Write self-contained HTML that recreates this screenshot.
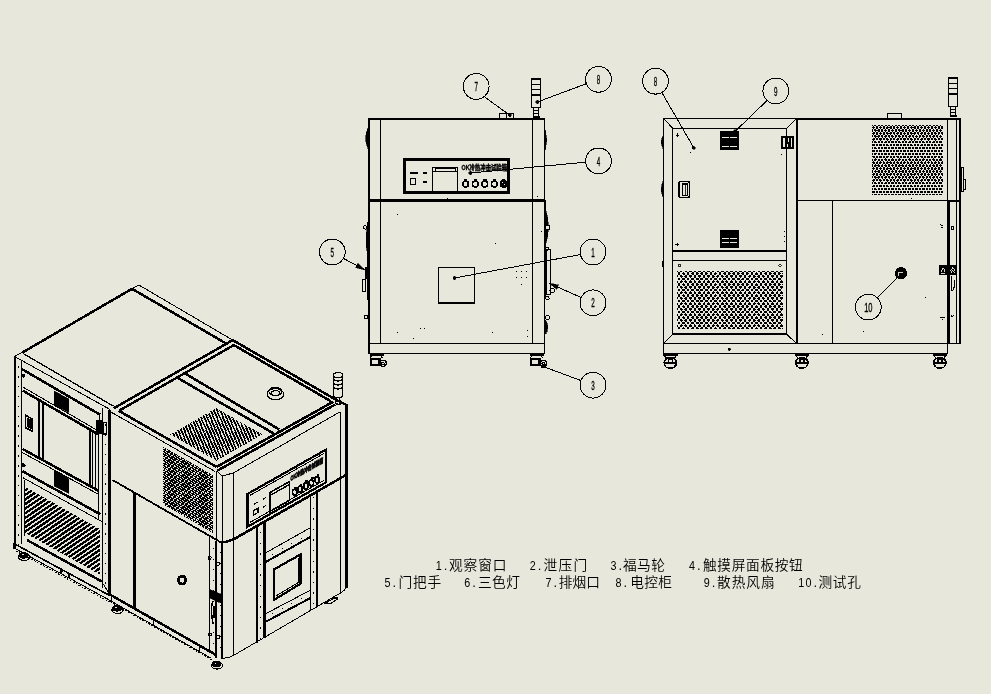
<!DOCTYPE html>
<html lang="zh">
<head>
<meta charset="utf-8">
<title>设备结构示意图</title>
<style>
html,body{margin:0;padding:0;background:#e7e7db;}
body{width:991px;height:694px;overflow:hidden;}
svg{display:block;will-change:transform;}
svg text{font-family:"Liberation Sans","Noto Sans CJK SC",sans-serif;fill:#000;}
svg .legend text{font-family:"Liberation Sans","Noto Sans CJK SC",sans-serif;font-weight:350;}
</style>
</head>
<body>
<svg width="991" height="694" viewBox="0 0 991 694" fill="none" stroke="#000" stroke-width="1" shape-rendering="crispEdges">
<g id="front">
<line x1="368" y1="119" x2="545.4" y2="119" stroke-width="2"/>
<line x1="369" y1="118" x2="369" y2="353.5" stroke-width="2"/>
<line x1="544.5" y1="118" x2="544.5" y2="353.5" stroke-width="1"/>
<line x1="380.5" y1="119" x2="380.5" y2="343" stroke-width="1"/>
<line x1="532.5" y1="119" x2="532.5" y2="343" stroke-width="1"/>
<line x1="368" y1="200.6" x2="545" y2="200.6" stroke-width="3"/>
<line x1="368" y1="343" x2="545" y2="343" stroke-width="1"/>
<line x1="368" y1="353.2" x2="545" y2="353.2" stroke-width="1"/>
<rect x="404.5" y="159.5" width="104" height="32.9" stroke-width="3" fill="none"/>
<rect x="432.5" y="167.2" width="25.1" height="23.8" stroke-width="1" fill="none"/>
<rect x="435" y="168.3" width="20" height="3" stroke-width="1" fill="none"/>
<line x1="432.5" y1="171.8" x2="457.6" y2="171.8" stroke-width="1"/>
<rect x="409.8" y="172" width="7.7" height="1.5" stroke="none" fill="#000"/>
<rect x="423" y="172.2" width="4" height="1.4" stroke="none" fill="#000"/>
<rect x="410.5" y="178.5" width="5.3" height="6" stroke-width="1" fill="none"/>
<rect x="423" y="181.3" width="4" height="1.3" stroke="none" fill="#000"/>
<text x="461.6" y="170.4" font-size="6.6" font-weight="900" textLength="45.4" lengthAdjust="spacingAndGlyphs" stroke="#000" stroke-width="0.35">OK冷热冲击试验箱</text>
<circle cx="465.6" cy="184" r="2.9" stroke-width="1.7" fill="none"/>
<rect x="464" y="179.4" width="3.4" height="2.2" stroke="none" fill="#000"/>
<circle cx="475.3" cy="184" r="2.9" stroke-width="1.7" fill="none"/>
<rect x="473.7" y="179.4" width="3.4" height="2.2" stroke="none" fill="#000"/>
<circle cx="484.8" cy="184" r="2.9" stroke-width="1.7" fill="none"/>
<rect x="483.2" y="179.4" width="3.4" height="2.2" stroke="none" fill="#000"/>
<circle cx="494.3" cy="184" r="2.9" stroke-width="1.7" fill="none"/>
<rect x="492.7" y="179.4" width="3.4" height="2.2" stroke="none" fill="#000"/>
<circle cx="503.6" cy="184" r="3.1" stroke-width="1.7" fill="none"/>
<circle cx="504.6" cy="184.4" r="1.6" stroke-width="2" fill="none"/>
<rect x="502" y="179.4" width="3.4" height="2.2" stroke="none" fill="#000"/>
<rect x="438.5" y="267.4" width="36.1" height="35.1" stroke-width="1" fill="none"/>
<line x1="438" y1="302.8" x2="475.1" y2="302.8" stroke-width="2"/>
<rect x="499.5" y="113.5" width="14" height="5" stroke-width="1" fill="none"/>
<line x1="506.5" y1="113.5" x2="506.5" y2="118.5" stroke-width="1"/>
<rect x="531.5" y="78.5" width="9" height="28.5" stroke-width="1" fill="none"/>
<rect x="531" y="78" width="10" height="2" stroke="none" fill="#000"/>
<line x1="531" y1="84.5" x2="541" y2="84.5" stroke-width="1"/>
<line x1="531" y1="89.5" x2="541" y2="89.5" stroke-width="1"/>
<rect x="531" y="93.5" width="10" height="2" stroke="none" fill="#000"/>
<rect x="533.5" y="107" width="5" height="9" stroke-width="1" fill="none"/>
<line x1="533.5" y1="110.5" x2="538.5" y2="110.5" stroke-width="1"/>
<line x1="533.5" y1="113.5" x2="538.5" y2="113.5" stroke-width="1"/>
<rect x="532.5" y="115.5" width="7" height="2.5" stroke="none" fill="#000"/>
<path d="M368 128 Q363.2 138 368 148.5 Z" stroke-width="0.6" fill="#000"/>
<path d="M368 224 Q364 240 368 256 Z" stroke-width="0.6" fill="#000"/>
<circle cx="365.3" cy="227.4" r="1.7" stroke-width="1" fill="none"/>
<rect x="365.2" y="266.5" width="3" height="12" stroke="none" fill="#000"/>
<rect x="362.6" y="279.5" width="2.4" height="12" stroke-width="1" fill="none"/>
<circle cx="366.2" cy="317" r="1.8" stroke-width="1" fill="none"/>
<line x1="367.4" y1="222" x2="367.4" y2="300" stroke-width="1"/>
<line x1="545.3" y1="200" x2="545.3" y2="297" stroke-width="1"/>
<path d="M545.3 130 Q548 140 545.3 150 Z" stroke-width="0.6" fill="#000"/>
<path d="M545.3 208 Q551.5 226 545.3 246 Z" stroke-width="0.6" fill="#000"/>
<circle cx="547.6" cy="227.6" r="2.2" stroke-width="1" fill="#e7e7db"/>
<rect x="546.8" y="249.5" width="3.8" height="45" stroke-width="1" fill="none"/>
<line x1="546" y1="249" x2="546" y2="290" stroke-width="2"/>
<circle cx="547.4" cy="248.6" r="1.6" stroke-width="1" fill="none"/>
<circle cx="552.3" cy="290.5" r="2.3" stroke-width="1" fill="none"/>
<circle cx="547.4" cy="298.2" r="1.8" stroke-width="1" fill="none"/>
<circle cx="547.4" cy="317.5" r="2" stroke-width="1" fill="none"/>
<path d="M545.3 320 Q550.4 327 545.3 334 Z" stroke-width="0.6" fill="#000"/>
<rect x="369.8" y="353.7" width="14" height="2.2" stroke="none" fill="#000"/>
<path d="M371.3 355.7 L370.3 358.2" stroke-width="1" fill="none"/>
<path d="M381.3 355.7 L382.3 358.2" stroke-width="1" fill="none"/>
<rect x="370" y="358.1" width="11.2" height="7.8" stroke="none" fill="#000"/>
<rect x="371.8" y="360.3" width="6.4" height="3.8" stroke="none" fill="#e7e7db"/>
<circle cx="383.2" cy="363.3" r="3.1" stroke-width="1.3" fill="#e7e7db"/>
<circle cx="383" cy="363.7" r="1.3" stroke-width="1.2" fill="none"/>
<rect x="530" y="353.7" width="14" height="2.2" stroke="none" fill="#000"/>
<path d="M531.5 355.7 L530.5 358.2" stroke-width="1" fill="none"/>
<path d="M541.5 355.7 L542.5 358.2" stroke-width="1" fill="none"/>
<rect x="530.2" y="358.1" width="11.2" height="7.8" stroke="none" fill="#000"/>
<rect x="532" y="360.3" width="6.4" height="3.8" stroke="none" fill="#e7e7db"/>
<circle cx="543.4" cy="363.3" r="3.1" stroke-width="1.3" fill="#e7e7db"/>
<circle cx="543.2" cy="363.7" r="1.3" stroke-width="1.2" fill="none"/>
<rect x="447" y="198" width="1" height="1" stroke="none" fill="#000"/>
<rect x="495" y="243" width="1" height="1" stroke="none" fill="#000"/>
<rect x="397" y="214" width="1" height="1" stroke="none" fill="#000"/>
<rect x="397" y="332" width="1" height="1" stroke="none" fill="#000"/>
<rect x="413" y="338" width="1" height="1" stroke="none" fill="#000"/>
<rect x="420" y="328" width="1" height="1" stroke="none" fill="#000"/>
<rect x="424" y="328" width="1" height="1" stroke="none" fill="#000"/>
<rect x="492" y="332" width="1" height="1" stroke="none" fill="#000"/>
<rect x="527" y="330" width="1" height="1" stroke="none" fill="#000"/>
<rect x="527" y="336" width="1" height="1" stroke="none" fill="#000"/>
<rect x="516" y="271" width="1" height="1" stroke="none" fill="#000"/>
<rect x="521" y="271" width="1" height="1" stroke="none" fill="#000"/>
<rect x="526" y="271" width="1" height="1" stroke="none" fill="#000"/>
<rect x="516" y="277" width="1" height="1" stroke="none" fill="#000"/>
<rect x="521" y="277" width="1" height="1" stroke="none" fill="#000"/>
<rect x="526" y="277" width="1" height="1" stroke="none" fill="#000"/>
<rect x="521" y="284" width="1" height="1" stroke="none" fill="#000"/>
<rect x="537" y="196" width="1" height="1" stroke="none" fill="#000"/>
<rect x="541" y="231" width="1" height="1" stroke="none" fill="#000"/>
</g>
<g id="balloons">
<circle cx="476.2" cy="86.4" r="12.9" stroke-width="1" fill="none"/>
<text transform="translate(476.2 91) scale(0.5 1)" text-anchor="middle" font-size="12.5" stroke="#000" stroke-width="0.35">7</text>
<line x1="484" y1="96.5" x2="509.8" y2="115.2" stroke-width="1"/>
<circle cx="509.8" cy="115.2" r="1.6" stroke-width="0.5" fill="#000"/>
<circle cx="598.5" cy="79.3" r="12.9" stroke-width="1" fill="none"/>
<text transform="translate(598.5 83.9) scale(0.5 1)" text-anchor="middle" font-size="12.5" stroke="#000" stroke-width="0.35">8</text>
<line x1="586.3" y1="83.7" x2="537.4" y2="102" stroke-width="1"/>
<circle cx="537.4" cy="102" r="1.6" stroke-width="0.5" fill="#000"/>
<circle cx="598.5" cy="160.9" r="12.9" stroke-width="1" fill="none"/>
<text transform="translate(598.5 165.5) scale(0.5 1)" text-anchor="middle" font-size="12.5" stroke="#000" stroke-width="0.35">4</text>
<line x1="585.7" y1="162.2" x2="470.3" y2="173" stroke-width="1"/>
<circle cx="470.3" cy="173" r="1.6" stroke-width="0.5" fill="#000"/>
<circle cx="593" cy="252" r="12.9" stroke-width="1" fill="none"/>
<text transform="translate(593 256.6) scale(0.5 1)" text-anchor="middle" font-size="12.5" stroke="#000" stroke-width="0.35">1</text>
<line x1="580.2" y1="254.6" x2="454.5" y2="278" stroke-width="1"/>
<circle cx="454.5" cy="278" r="1.6" stroke-width="0.5" fill="#000"/>
<circle cx="593" cy="302.8" r="12.9" stroke-width="1" fill="none"/>
<text transform="translate(593 307.4) scale(0.5 1)" text-anchor="middle" font-size="12.5" stroke="#000" stroke-width="0.35">2</text>
<line x1="581" y1="297.5" x2="549" y2="283.2" stroke-width="1"/>
<path d="M549 283.2 L556.69 289.27 L558.65 284.88 Z" stroke-width="0.5" fill="#000"/>
<circle cx="593" cy="385.2" r="12.9" stroke-width="1" fill="none"/>
<text transform="translate(593 389.8) scale(0.5 1)" text-anchor="middle" font-size="12.5" stroke="#000" stroke-width="0.35">3</text>
<line x1="580.8" y1="380.5" x2="542.6" y2="366.3" stroke-width="1"/>
<circle cx="542.6" cy="366.3" r="1.6" stroke-width="0.5" fill="#000"/>
<circle cx="332.3" cy="252" r="12.9" stroke-width="1" fill="none"/>
<text transform="translate(332.3 256.6) scale(0.5 1)" text-anchor="middle" font-size="12.5" stroke="#000" stroke-width="0.35">5</text>
<line x1="343.6" y1="258.5" x2="365.2" y2="270" stroke-width="1"/>
<path d="M365.2 270 L357.94 263.42 L355.69 267.65 Z" stroke-width="0.5" fill="#000"/>
</g>
<g id="side">
<line x1="663" y1="118" x2="797" y2="118" stroke-width="1"/>
<line x1="797" y1="118.8" x2="961" y2="118.8" stroke-width="2"/>
<line x1="663.5" y1="118" x2="663.5" y2="353.7" stroke-width="1"/>
<line x1="672.6" y1="128.3" x2="672.6" y2="334.5" stroke-width="1"/>
<line x1="672.6" y1="128.3" x2="786.5" y2="128.3" stroke-width="1"/>
<line x1="786.5" y1="128.3" x2="786.5" y2="334.5" stroke-width="1"/>
<line x1="796.9" y1="118" x2="796.9" y2="343.3" stroke-width="2"/>
<line x1="663.5" y1="118" x2="672.6" y2="128.3" stroke-width="1"/>
<line x1="796.5" y1="118.5" x2="786.5" y2="128.3" stroke-width="1"/>
<line x1="672.6" y1="251" x2="786.5" y2="251" stroke-width="2"/>
<line x1="672.6" y1="260.3" x2="786.5" y2="260.3" stroke-width="1"/>
<line x1="672" y1="334.2" x2="787" y2="334.2" stroke-width="2"/>
<line x1="663.5" y1="343.3" x2="672.6" y2="334.2" stroke-width="1"/>
<line x1="796.5" y1="343.3" x2="786.5" y2="334.2" stroke-width="1"/>
<line x1="663" y1="343.3" x2="961" y2="343.3" stroke-width="1"/>
<line x1="663" y1="353.7" x2="948" y2="353.7" stroke-width="1"/>
<line x1="947.7" y1="343.3" x2="947.7" y2="353.7" stroke-width="1"/>
<rect x="720" y="131" width="19" height="18.6" stroke="none" fill="#000"/>
<line x1="721.5" y1="137.6" x2="737.5" y2="137.6" stroke="#e7e7db" stroke-width="1" stroke-dasharray="7 1.5"/>
<line x1="721.5" y1="146.3" x2="737.5" y2="146.3" stroke="#e7e7db" stroke-width="1" stroke-dasharray="7 1.5"/>
<rect x="720" y="230" width="19" height="18" stroke="none" fill="#000"/>
<line x1="721.5" y1="238.3" x2="737.5" y2="238.3" stroke="#e7e7db" stroke-width="1" stroke-dasharray="7 1.5"/>
<line x1="721.5" y1="242.3" x2="737.5" y2="242.3" stroke="#e7e7db" stroke-width="1" stroke-dasharray="7 1.5"/>
<rect x="781" y="136" width="13" height="13" stroke="none" fill="#000"/>
<rect x="783.2" y="138" width="1.4" height="8.5" stroke="none" fill="#e7e7db"/>
<rect x="787.6" y="138" width="1" height="4" stroke="none" fill="#e7e7db"/>
<rect x="790.6" y="138" width="1" height="8.5" stroke="none" fill="#e7e7db"/>
<rect x="786.8" y="144" width="1.4" height="2.5" stroke="none" fill="#e7e7db"/>
<rect x="678.8" y="181.6" width="10.8" height="15.8" rx="1.6" stroke-width="1.6" fill="none"/>
<rect x="682.6" y="184" width="4.8" height="11.2" stroke-width="1.4" fill="none"/>
<line x1="685" y1="184.5" x2="685" y2="195" stroke-width="0.8"/>
<rect x="675.6" y="134.5" width="3.4" height="1.5" stroke="none" fill="#000"/>
<rect x="676.6" y="133.3" width="1.4" height="3.9" stroke="none" fill="#000"/>
<rect x="675.4" y="243.5" width="3.8" height="1.5" stroke="none" fill="#000"/>
<rect x="676.6" y="242.6" width="1.6" height="3.2" stroke="none" fill="#000"/>
<rect x="678.6" y="264.5" width="1.8" height="1.7" stroke-width="0.8" fill="none"/>
<ellipse cx="779.9" cy="265.3" rx="1.3" ry="0.9" stroke-width="0.8" fill="none"/>
<rect x="729.8" y="343" width="1.2" height="1" stroke="none" fill="#000"/>
<circle cx="729.4" cy="349.4" r="1.3" stroke-width="0.5" fill="#000"/>
<path d="M677 271.5h1m2 0h2m3 0h2m2 0h3m2 0h2m2 0h3m2 0h2m2 0h3m2 0h2m3 0h2m2 0h3m2 0h2m2 0h3m2 0h2m2 0h3m2 0h2m2 0h3m2 0h2m3 0h2m2 0h3m2 0h2m2 0h3m2 0h2m2 0h3M678 272.5h2m3 0h1m3 0h2m3 0h2m2 0h2m3 0h2m2 0h2m3 0h2m3 0h1m3 0h2m3 0h2m2 0h2m3 0h2m2 0h2m3 0h2m2 0h2m3 0h2m3 0h1m3 0h2m3 0h2m2 0h2m3 0h2m2 0h2M678 273.5h2m2 0h3m2 0h2m2 0h3m2 0h3m1 0h3m2 0h3m2 0h2m2 0h3m2 0h2m2 0h3m2 0h3m1 0h3m2 0h3m1 0h3m2 0h3m2 0h2m2 0h3m2 0h2m2 0h3m2 0h3m1 0h3m2 0h3m1 0h1M678 274.5h2m3 0h2m2 0h2m3 0h2m2 0h2m3 0h2m2 0h2m3 0h2m2 0h2m3 0h2m3 0h2m2 0h2m3 0h2m2 0h2m3 0h2m2 0h2m3 0h2m2 0h3m2 0h2m3 0h2m2 0h2m3 0h2m2 0h2M677 275.5h1m2 0h2m3 0h2m2 0h3m2 0h2m2 0h3m2 0h2m2 0h3m2 0h2m3 0h2m2 0h2m3 0h2m2 0h3m2 0h2m2 0h3m2 0h2m3 0h2m2 0h2m3 0h2m2 0h2m3 0h2m2 0h3m2 0h2m2 0h3M677 276.5h1m2 0h3m1 0h3m2 0h3m2 0h2m2 0h3m2 0h2m2 0h3m2 0h3m1 0h3m2 0h3m1 0h3m2 0h3m2 0h2m2 0h3m2 0h2m2 0h3m2 0h3m1 0h3m2 0h3m2 0h2m2 0h3m2 0h2m2 0h3M681 277.5h1m3 0h2m3 0h1m3 0h2m3 0h1m3 0h2m3 0h1m3 0h2m3 0h1m4 0h1m3 0h2m3 0h1m3 0h2m3 0h1m3 0h2m3 0h1m3 0h2m3 0h2m3 0h1m3 0h2m3 0h1m3 0h2m3 0h1M678 278.5h2m2 0h3m2 0h2m2 0h3m2 0h3m1 0h3m2 0h3m2 0h2m2 0h3m2 0h2m2 0h3m2 0h2m2 0h3m2 0h3m2 0h2m2 0h3m2 0h2m2 0h3m2 0h2m2 0h3m2 0h2m2 0h3m2 0h3M678 279.5h2m2 0h3m2 0h2m2 0h3m2 0h3m1 0h3m2 0h3m2 0h2m2 0h3m2 0h2m2 0h3m2 0h2m2 0h3m2 0h3m1 0h3m2 0h3m2 0h2m2 0h3m2 0h2m2 0h3m2 0h3m1 0h3m2 0h3M681 280.5h1m3 0h1m4 0h1m3 0h1m4 0h1m4 0h1m3 0h1m4 0h1m3 0h1m4 0h1m3 0h1m4 0h1m3 0h1m4 0h1m4 0h1m3 0h1m4 0h1m3 0h1m4 0h1m3 0h1m4 0h1m4 0h1m3 0h1M677 281.5h1m2 0h3m1 0h3m2 0h3m2 0h2m2 0h3m2 0h2m2 0h3m2 0h3m1 0h3m2 0h3m1 0h3m2 0h3m2 0h2m2 0h3m2 0h2m2 0h3m2 0h3m1 0h3m2 0h3m2 0h2m2 0h3m2 0h2m2 0h3M677 282.5h1m2 0h2m3 0h2m2 0h3m2 0h2m2 0h3m2 0h2m2 0h3m2 0h2m3 0h2m2 0h3m2 0h2m2 0h3m2 0h2m2 0h3m2 0h2m2 0h3m2 0h2m3 0h2m2 0h3m2 0h2m2 0h3m2 0h2m2 0h3M678 283.5h2m3 0h1m3 0h2m3 0h2m2 0h2m3 0h2m2 0h2m3 0h2m3 0h1m3 0h2m3 0h2m2 0h2m3 0h2m2 0h2m3 0h2m2 0h2m3 0h2m3 0h1m3 0h2m3 0h2m2 0h2m3 0h2m2 0h2M678 284.5h2m2 0h3m2 0h2m2 0h3m2 0h3m1 0h3m2 0h3m2 0h2m2 0h3m2 0h2m2 0h3m2 0h3m1 0h3m2 0h3m1 0h3m2 0h3m2 0h2m2 0h3m2 0h2m2 0h3m2 0h3m1 0h3m2 0h3m1 0h1M678 285.5h2m3 0h2m2 0h2m3 0h2m2 0h2m3 0h2m2 0h2m3 0h2m2 0h2m3 0h2m3 0h2m2 0h2m3 0h2m2 0h2m3 0h2m2 0h2m3 0h2m2 0h3m2 0h2m3 0h2m2 0h2m3 0h2m2 0h2M677 286.5h1m2 0h2m3 0h2m2 0h3m2 0h2m2 0h3m2 0h2m2 0h3m2 0h2m3 0h2m2 0h2m3 0h2m2 0h3m2 0h2m2 0h3m2 0h2m3 0h2m2 0h2m3 0h2m2 0h2m3 0h2m2 0h3m2 0h2m2 0h3M677 287.5h1m2 0h3m1 0h3m2 0h3m2 0h2m2 0h3m2 0h2m2 0h3m2 0h3m1 0h3m2 0h3m1 0h3m2 0h3m2 0h2m2 0h3m2 0h2m2 0h3m2 0h3m1 0h3m2 0h3m2 0h2m2 0h3m2 0h2m2 0h3M681 288.5h1m3 0h2m3 0h1m3 0h2m3 0h1m3 0h2m3 0h1m3 0h2m3 0h1m4 0h1m3 0h2m3 0h1m3 0h2m3 0h1m3 0h2m3 0h1m3 0h2m3 0h2m3 0h1m3 0h2m3 0h1m3 0h2m3 0h1M678 289.5h2m2 0h3m2 0h2m2 0h3m2 0h3m1 0h3m2 0h3m2 0h2m2 0h3m2 0h2m2 0h3m2 0h2m2 0h3m2 0h3m2 0h2m2 0h3m2 0h2m2 0h3m2 0h2m2 0h3m2 0h2m2 0h3m2 0h3M678 290.5h2m2 0h3m2 0h2m2 0h3m2 0h3m1 0h3m2 0h3m2 0h2m2 0h3m2 0h2m2 0h3m2 0h2m2 0h3m2 0h3m1 0h3m2 0h3m2 0h2m2 0h3m2 0h2m2 0h3m2 0h3m1 0h3m2 0h3M681 291.5h1m3 0h1m4 0h1m3 0h1m4 0h1m4 0h1m3 0h1m4 0h1m3 0h1m4 0h1m3 0h1m4 0h1m3 0h1m4 0h1m4 0h1m3 0h1m4 0h1m3 0h1m4 0h1m3 0h1m4 0h1m4 0h1m3 0h1M677 292.5h1m2 0h3m1 0h3m2 0h3m2 0h2m2 0h3m2 0h2m2 0h3m2 0h3m1 0h3m2 0h3m1 0h3m2 0h3m2 0h2m2 0h3m2 0h2m2 0h3m2 0h3m1 0h3m2 0h3m2 0h2m2 0h3m2 0h2m2 0h3M677 293.5h1m2 0h2m3 0h2m2 0h3m2 0h2m2 0h3m2 0h2m2 0h3m2 0h2m3 0h2m2 0h3m2 0h2m2 0h3m2 0h2m2 0h3m2 0h2m2 0h3m2 0h2m3 0h2m2 0h3m2 0h2m2 0h3m2 0h2m2 0h3M678 294.5h2m3 0h1m3 0h2m3 0h2m2 0h2m3 0h2m2 0h2m3 0h2m3 0h1m3 0h2m3 0h2m2 0h2m3 0h2m2 0h2m3 0h2m2 0h2m3 0h2m3 0h1m3 0h2m3 0h2m2 0h2m3 0h2m2 0h2M678 295.5h2m2 0h3m2 0h2m2 0h3m2 0h3m1 0h3m2 0h3m2 0h2m2 0h3m2 0h2m2 0h3m2 0h3m1 0h3m2 0h3m1 0h3m2 0h3m2 0h2m2 0h3m2 0h2m2 0h3m2 0h3m1 0h3m2 0h3m1 0h1M678 296.5h2m3 0h2m2 0h2m3 0h2m2 0h2m3 0h2m2 0h2m3 0h2m2 0h2m3 0h2m3 0h2m2 0h2m3 0h2m2 0h2m3 0h2m2 0h2m3 0h2m2 0h3m2 0h2m3 0h2m2 0h2m3 0h2m2 0h2M677 297.5h1m2 0h2m3 0h2m2 0h3m2 0h2m2 0h3m2 0h2m2 0h3m2 0h2m3 0h2m2 0h2m3 0h2m2 0h3m2 0h2m2 0h3m2 0h2m3 0h2m2 0h2m3 0h2m2 0h2m3 0h2m2 0h3m2 0h2m2 0h3M677 298.5h1m2 0h3m1 0h3m2 0h3m2 0h2m2 0h3m2 0h2m2 0h3m2 0h3m1 0h3m2 0h3m1 0h3m2 0h3m2 0h2m2 0h3m2 0h2m2 0h3m2 0h3m1 0h3m2 0h3m2 0h2m2 0h3m2 0h2m2 0h3M681 299.5h1m3 0h2m3 0h1m3 0h2m3 0h1m3 0h2m3 0h1m3 0h2m3 0h1m4 0h1m3 0h2m3 0h1m3 0h2m3 0h1m3 0h2m3 0h1m3 0h2m3 0h2m3 0h1m3 0h2m3 0h1m3 0h2m3 0h1M678 300.5h2m2 0h3m2 0h2m2 0h3m2 0h3m1 0h3m2 0h3m2 0h2m2 0h3m2 0h2m2 0h3m2 0h2m2 0h3m2 0h3m2 0h2m2 0h3m2 0h2m2 0h3m2 0h2m2 0h3m2 0h2m2 0h3m2 0h3M678 301.5h2m2 0h3m2 0h2m2 0h3m2 0h3m1 0h3m2 0h3m2 0h2m2 0h3m2 0h2m2 0h3m2 0h2m2 0h3m2 0h3m1 0h3m2 0h3m2 0h2m2 0h3m2 0h2m2 0h3m2 0h3m1 0h3m2 0h3M681 302.5h1m3 0h1m4 0h1m3 0h1m4 0h1m4 0h1m3 0h1m4 0h1m3 0h1m4 0h1m3 0h1m4 0h1m3 0h1m4 0h1m4 0h1m3 0h1m4 0h1m3 0h1m4 0h1m3 0h1m4 0h1m4 0h1m3 0h1M677 303.5h1m2 0h3m1 0h3m2 0h3m2 0h2m2 0h3m2 0h2m2 0h3m2 0h3m1 0h3m2 0h3m1 0h3m2 0h3m2 0h2m2 0h3m2 0h2m2 0h3m2 0h3m1 0h3m2 0h3m2 0h2m2 0h3m2 0h2m2 0h3M677 304.5h1m2 0h2m3 0h2m2 0h3m2 0h2m2 0h3m2 0h2m2 0h3m2 0h2m3 0h2m2 0h3m2 0h2m2 0h3m2 0h2m2 0h3m2 0h2m2 0h3m2 0h2m3 0h2m2 0h3m2 0h2m2 0h3m2 0h2m2 0h3M678 305.5h2m3 0h1m3 0h2m3 0h2m2 0h2m3 0h2m2 0h2m3 0h2m3 0h1m3 0h2m3 0h2m2 0h2m3 0h2m2 0h2m3 0h2m2 0h2m3 0h2m3 0h1m3 0h2m3 0h2m2 0h2m3 0h2m2 0h2M678 306.5h2m2 0h3m2 0h2m2 0h3m2 0h3m1 0h3m2 0h3m2 0h2m2 0h3m2 0h2m2 0h3m2 0h3m1 0h3m2 0h3m1 0h3m2 0h3m2 0h2m2 0h3m2 0h2m2 0h3m2 0h3m1 0h3m2 0h3m1 0h1M678 307.5h2m3 0h2m2 0h2m3 0h2m2 0h2m3 0h2m2 0h2m3 0h2m2 0h2m3 0h2m3 0h2m2 0h2m3 0h2m2 0h2m3 0h2m2 0h2m3 0h2m2 0h3m2 0h2m3 0h2m2 0h2m3 0h2m2 0h2M677 308.5h1m2 0h2m3 0h2m2 0h3m2 0h2m2 0h3m2 0h2m2 0h3m2 0h2m3 0h2m2 0h2m3 0h2m2 0h3m2 0h2m2 0h3m2 0h2m3 0h2m2 0h2m3 0h2m2 0h2m3 0h2m2 0h3m2 0h2m2 0h3M677 309.5h1m2 0h3m1 0h3m2 0h3m2 0h2m2 0h3m2 0h2m2 0h3m2 0h3m1 0h3m2 0h3m1 0h3m2 0h3m2 0h2m2 0h3m2 0h2m2 0h3m2 0h3m1 0h3m2 0h3m2 0h2m2 0h3m2 0h2m2 0h3M681 310.5h1m3 0h2m3 0h1m3 0h2m3 0h1m3 0h2m3 0h1m3 0h2m3 0h1m4 0h1m3 0h2m3 0h1m3 0h2m3 0h1m3 0h2m3 0h1m3 0h2m3 0h2m3 0h1m3 0h2m3 0h1m3 0h2m3 0h1M678 311.5h2m2 0h3m2 0h2m2 0h3m2 0h3m1 0h3m2 0h3m2 0h2m2 0h3m2 0h2m2 0h3m2 0h2m2 0h3m2 0h3m2 0h2m2 0h3m2 0h2m2 0h3m2 0h2m2 0h3m2 0h2m2 0h3m2 0h3M678 312.5h2m2 0h3m2 0h2m2 0h3m2 0h3m1 0h3m2 0h3m2 0h2m2 0h3m2 0h2m2 0h3m2 0h2m2 0h3m2 0h3m1 0h3m2 0h3m2 0h2m2 0h3m2 0h2m2 0h3m2 0h3m1 0h3m2 0h3M681 313.5h1m3 0h1m4 0h1m3 0h1m4 0h1m4 0h1m3 0h1m4 0h1m3 0h1m4 0h1m3 0h1m4 0h1m3 0h1m4 0h1m4 0h1m3 0h1m4 0h1m3 0h1m4 0h1m3 0h1m4 0h1m4 0h1m3 0h1M677 314.5h1m2 0h3m1 0h3m2 0h3m2 0h2m2 0h3m2 0h2m2 0h3m2 0h3m1 0h3m2 0h3m1 0h3m2 0h3m2 0h2m2 0h3m2 0h2m2 0h3m2 0h3m1 0h3m2 0h3m2 0h2m2 0h3m2 0h2m2 0h3M677 315.5h1m2 0h2m3 0h2m2 0h3m2 0h2m2 0h3m2 0h2m2 0h3m2 0h2m3 0h2m2 0h3m2 0h2m2 0h3m2 0h2m2 0h3m2 0h2m2 0h3m2 0h2m3 0h2m2 0h3m2 0h2m2 0h3m2 0h2m2 0h3M678 316.5h2m3 0h1m3 0h2m3 0h2m2 0h2m3 0h2m2 0h2m3 0h2m3 0h1m3 0h2m3 0h2m2 0h2m3 0h2m2 0h2m3 0h2m2 0h2m3 0h2m3 0h1m3 0h2m3 0h2m2 0h2m3 0h2m2 0h2M678 317.5h2m2 0h3m2 0h2m2 0h3m2 0h3m1 0h3m2 0h3m2 0h2m2 0h3m2 0h2m2 0h3m2 0h3m1 0h3m2 0h3m1 0h3m2 0h3m2 0h2m2 0h3m2 0h2m2 0h3m2 0h3m1 0h3m2 0h3m1 0h1M678 318.5h2m3 0h2m2 0h2m3 0h2m2 0h2m3 0h2m2 0h2m3 0h2m2 0h2m3 0h2m3 0h2m2 0h2m3 0h2m2 0h2m3 0h2m2 0h2m3 0h2m2 0h3m2 0h2m3 0h2m2 0h2m3 0h2m2 0h2M677 319.5h1m2 0h2m3 0h2m2 0h3m2 0h2m2 0h3m2 0h2m2 0h3m2 0h2m3 0h2m2 0h2m3 0h2m2 0h3m2 0h2m2 0h3m2 0h2m3 0h2m2 0h2m3 0h2m2 0h2m3 0h2m2 0h3m2 0h2m2 0h3M677 320.5h1m2 0h3m1 0h3m2 0h3m2 0h2m2 0h3m2 0h2m2 0h3m2 0h3m1 0h3m2 0h3m1 0h3m2 0h3m2 0h2m2 0h3m2 0h2m2 0h3m2 0h3m1 0h3m2 0h3m2 0h2m2 0h3m2 0h2m2 0h3M681 321.5h1m3 0h2m3 0h1m3 0h2m3 0h1m3 0h2m3 0h1m3 0h2m3 0h1m4 0h1m3 0h2m3 0h1m3 0h2m3 0h1m3 0h2m3 0h1m3 0h2m3 0h2m3 0h1m3 0h2m3 0h1m3 0h2m3 0h1M678 322.5h2m2 0h3m2 0h2m2 0h3m2 0h3m1 0h3m2 0h3m2 0h2m2 0h3m2 0h2m2 0h3m2 0h2m2 0h3m2 0h3m2 0h2m2 0h3m2 0h2m2 0h3m2 0h2m2 0h3m2 0h2m2 0h3m2 0h3M678 323.5h2m2 0h3m2 0h2m2 0h3m2 0h3m1 0h3m2 0h3m2 0h2m2 0h3m2 0h2m2 0h3m2 0h2m2 0h3m2 0h3m1 0h3m2 0h3m2 0h2m2 0h3m2 0h2m2 0h3m2 0h3m1 0h3m2 0h3M681 324.5h1m3 0h1m4 0h1m3 0h1m4 0h1m4 0h1m3 0h1m4 0h1m3 0h1m4 0h1m3 0h1m4 0h1m3 0h1m4 0h1m4 0h1m3 0h1m4 0h1m3 0h1m4 0h1m3 0h1m4 0h1m4 0h1m3 0h1M677 325.5h1m2 0h3m1 0h3m2 0h3m2 0h2m2 0h3m2 0h2m2 0h3m2 0h3m1 0h3m2 0h3m1 0h3m2 0h3m2 0h2m2 0h3m2 0h2m2 0h3m2 0h3m1 0h3m2 0h3m2 0h2m2 0h3m2 0h2m2 0h3M677 326.5h1m2 0h2m3 0h2m2 0h3m2 0h2m2 0h3m2 0h2m2 0h3m2 0h2m3 0h2m2 0h3m2 0h2m2 0h3m2 0h2m2 0h3m2 0h2m2 0h3m2 0h2m3 0h2m2 0h3m2 0h2m2 0h3m2 0h2m2 0h3M678 327.5h2m3 0h1m3 0h2m3 0h2m2 0h2m3 0h2m2 0h2m3 0h2m3 0h1m3 0h2m3 0h2m2 0h2m3 0h2m2 0h2m3 0h2m2 0h2m3 0h2m3 0h1m3 0h2m3 0h2m2 0h2m3 0h2m2 0h2M678 328.5h2m2 0h3m2 0h2m2 0h3m2 0h3m1 0h3m2 0h3m2 0h2m2 0h3m2 0h2m2 0h3m2 0h3m1 0h3m2 0h3m1 0h3m2 0h3m2 0h2m2 0h3m2 0h2m2 0h3m2 0h3m1 0h3m2 0h3m1 0h1" stroke-width="1"/>
<path d="M663.4 135 Q659 142 663.4 149.4 Z" stroke-width="0.6" fill="#000"/>
<path d="M663.4 180.4 Q659 189 663.4 198 Z" stroke-width="0.6" fill="#000"/>
<rect x="661.6" y="261" width="1.4" height="5.5" stroke="none" fill="#000"/>
<line x1="797" y1="200.4" x2="948" y2="200.4" stroke-width="1"/>
<line x1="947" y1="200.8" x2="961" y2="200.8" stroke-width="2"/>
<line x1="832.5" y1="200.4" x2="832.5" y2="343.3" stroke-width="1"/>
<line x1="947.7" y1="118" x2="947.7" y2="200" stroke-width="1"/>
<line x1="948.6" y1="200" x2="948.6" y2="343.5" stroke-width="2.8"/>
<line x1="956.8" y1="118" x2="956.8" y2="343.5" stroke-width="1"/>
<line x1="960" y1="118" x2="960" y2="344" stroke-width="2"/>
<rect x="887.5" y="113.5" width="13.5" height="5" stroke-width="1" fill="none"/>
<path d="M872 125.5h1m1 0h2m2 0h2m1 0h2m2 0h2m1 0h2m2 0h1m2 0h2m1 0h2m2 0h2m1 0h2m2 0h2m1 0h2m2 0h1m2 0h2m1 0h2m2 0h2m1 0h2m2 0h2m1 0h2m2 0h1M873 126.5h1m2 0h2m2 0h1m2 0h2m2 0h1m2 0h2m1 0h2m2 0h1m2 0h2m2 0h1m2 0h2m2 0h1m2 0h2m1 0h2m2 0h1m2 0h2m2 0h1m2 0h2m2 0h1m2 0h2m1 0h2M872 127.5h3m1 0h2m1 0h3m1 0h2m1 0h6m1 0h2m1 0h3m1 0h2m1 0h3m1 0h2m1 0h6m1 0h2m1 0h3m1 0h2m1 0h3m1 0h2m1 0h3m1 0h2m1 0h2M873 128.5h1m2 0h2m2 0h1m2 0h2m1 0h2m2 0h2m1 0h2m2 0h1m2 0h2m2 0h1m2 0h2m2 0h1m2 0h2m1 0h2m2 0h1m2 0h2m2 0h1m2 0h2m2 0h1m2 0h2m1 0h2M872 129.5h1m1 0h2m2 0h2m1 0h2m2 0h1m2 0h2m2 0h1m2 0h2m1 0h2m2 0h2m1 0h2m2 0h1m2 0h2m2 0h1m2 0h2m2 0h1m2 0h2m1 0h2m2 0h1m2 0h2m2 0h1M872 130.5h1m1 0h6m1 0h2m1 0h3m1 0h2m1 0h3m1 0h2m1 0h6m1 0h2m1 0h3m1 0h2m1 0h3m1 0h2m1 0h3m1 0h2m1 0h2m1 0h3m1 0h2m1 0h3M872 131.5h1m2 0h1m2 0h2m1 0h2m2 0h1m2 0h2m2 0h1m2 0h2m2 0h1m2 0h2m1 0h2m2 0h1m2 0h2m2 0h1m2 0h2m2 0h1m2 0h2m1 0h2m2 0h1m2 0h2m2 0h1M873 132.5h2m1 0h2m2 0h1m2 0h2m1 0h2m2 0h2m1 0h2m2 0h2m1 0h2m2 0h1m2 0h2m1 0h2m2 0h2m1 0h2m2 0h2m1 0h2m2 0h1m2 0h2m1 0h2m2 0h2m1 0h2M872 133.5h3m1 0h2m1 0h3m1 0h2m1 0h6m1 0h2m1 0h3m1 0h2m1 0h3m1 0h2m1 0h6m1 0h2m1 0h3m1 0h2m1 0h3m1 0h2m1 0h3m1 0h2m1 0h2M873 134.5h1m2 0h2m2 0h1m2 0h2m2 0h1m2 0h1m3 0h1m2 0h1m2 0h2m2 0h1m2 0h2m2 0h1m2 0h1m3 0h1m2 0h1m2 0h2m2 0h1m2 0h2m2 0h1m2 0h1m3 0h1M872 135.5h1m1 0h2m2 0h2m1 0h2m2 0h2m1 0h2m1 0h2m2 0h2m1 0h2m2 0h2m1 0h2m2 0h2m1 0h2m2 0h1m2 0h2m1 0h2m2 0h2m1 0h2m2 0h2m1 0h2m2 0h1M872 136.5h1m1 0h6m1 0h2m1 0h3m1 0h2m1 0h3m1 0h2m1 0h3m1 0h2m1 0h2m1 0h3m1 0h2m1 0h3m1 0h2m1 0h3m1 0h2m1 0h2m1 0h3m1 0h2m1 0h3M875 137.5h1m2 0h1m3 0h1m2 0h1m3 0h1m2 0h1m2 0h1m3 0h1m2 0h1m3 0h1m2 0h1m3 0h1m2 0h1m2 0h1m3 0h1m2 0h1m3 0h1m2 0h1m3 0h1m2 0h1M873 138.5h2m1 0h2m1 0h3m1 0h2m1 0h2m2 0h2m1 0h2m2 0h2m1 0h2m1 0h3m1 0h2m1 0h2m2 0h2m1 0h2m2 0h2m1 0h2m1 0h3m1 0h2m1 0h2m2 0h2m1 0h2M872 139.5h3m1 0h2m1 0h3m1 0h2m1 0h3m1 0h2m1 0h2m1 0h3m1 0h2m1 0h3m1 0h2m1 0h3m1 0h2m1 0h2m1 0h3m1 0h2m1 0h3m1 0h2m1 0h3m1 0h2m1 0h2M873 140.5h1m6 0h1m6 0h1m2 0h1m6 0h1m6 0h1m6 0h1m2 0h1m6 0h1m6 0h1m6 0h1M872 141.5h1m1 0h2m2 0h2m1 0h2m2 0h2m1 0h2m1 0h3m1 0h2m1 0h2m2 0h2m1 0h2m2 0h2m1 0h2m1 0h3m1 0h2m1 0h2m2 0h2m1 0h2m2 0h2m1 0h2m1 0h3M872 142.5h1m1 0h3m1 0h2m1 0h2m1 0h3m1 0h2m1 0h3m1 0h2m1 0h3m1 0h2m1 0h2m1 0h3m1 0h2m1 0h3m1 0h2m1 0h3m1 0h2m1 0h2m1 0h3m1 0h2m1 0h3M872 144.5h3m1 0h2m1 0h3m1 0h2m1 0h2m2 0h2m1 0h2m1 0h3m1 0h2m1 0h3m1 0h2m1 0h2m2 0h2m1 0h2m2 0h2m1 0h2m1 0h3m1 0h2m1 0h2m2 0h2m1 0h2M872 145.5h3m1 0h2m1 0h3m1 0h2m1 0h3m1 0h2m1 0h2m1 0h3m1 0h2m1 0h3m1 0h2m1 0h3m1 0h2m1 0h2m1 0h3m1 0h2m1 0h3m1 0h2m1 0h3m1 0h2m1 0h2M872 147.5h1m1 0h2m2 0h2m1 0h2m1 0h3m1 0h2m1 0h3m1 0h2m1 0h3m1 0h2m1 0h2m1 0h3m1 0h2m1 0h3m1 0h2m1 0h3m1 0h2m1 0h2m1 0h3m1 0h2m1 0h3M872 148.5h1m1 0h3m1 0h2m1 0h2m1 0h3m1 0h2m1 0h3m1 0h2m1 0h3m1 0h2m1 0h2m1 0h3m1 0h2m1 0h3m1 0h2m1 0h3m1 0h2m1 0h2m1 0h3m1 0h2m1 0h3M872 150.5h3m1 0h2m1 0h3m1 0h2m1 0h3m1 0h2m1 0h2m1 0h3m1 0h2m1 0h3m1 0h2m1 0h3m1 0h2m1 0h2m1 0h3m1 0h2m1 0h3m1 0h2m1 0h3m1 0h2m1 0h2M872 151.5h3m1 0h2m1 0h3m1 0h2m1 0h3m1 0h2m1 0h2m1 0h3m1 0h2m1 0h3m1 0h2m1 0h3m1 0h2m1 0h2m1 0h3m1 0h2m1 0h3m1 0h2m1 0h3m1 0h2m1 0h2M872 153.5h1m1 0h3m1 0h2m1 0h2m1 0h3m1 0h2m1 0h3m1 0h2m1 0h3m1 0h2m1 0h2m1 0h3m1 0h2m1 0h3m1 0h2m1 0h3m1 0h2m1 0h2m1 0h3m1 0h2m1 0h3M872 154.5h1m1 0h2m2 0h2m1 0h2m1 0h3m1 0h2m1 0h3m1 0h2m1 0h2m2 0h2m1 0h2m1 0h3m1 0h2m1 0h3m1 0h2m1 0h2m2 0h2m1 0h2m2 0h2m1 0h2m1 0h3M872 156.5h3m1 0h2m1 0h3m1 0h2m1 0h3m1 0h2m1 0h2m1 0h3m1 0h2m1 0h3m1 0h2m1 0h3m1 0h2m1 0h2m1 0h3m1 0h2m1 0h3m1 0h2m1 0h3m1 0h2m1 0h2M873 157.5h2m1 0h2m1 0h3m1 0h2m1 0h2m2 0h2m1 0h2m2 0h2m1 0h2m1 0h3m1 0h2m1 0h2m2 0h2m1 0h2m2 0h2m1 0h2m1 0h3m1 0h2m1 0h2m2 0h2m1 0h2M875 158.5h1m9 0h1m6 0h1m6 0h1m9 0h1m6 0h1m6 0h1m9 0h1m6 0h1M872 159.5h1m1 0h3m1 0h2m1 0h2m1 0h3m1 0h2m1 0h3m1 0h2m1 0h3m1 0h2m1 0h2m1 0h3m1 0h2m1 0h3m1 0h2m1 0h3m1 0h2m1 0h2m1 0h3m1 0h2m1 0h3M872 160.5h1m1 0h2m2 0h2m1 0h2m2 0h2m1 0h2m1 0h3m1 0h2m1 0h2m2 0h2m1 0h2m2 0h2m1 0h2m1 0h3m1 0h2m1 0h2m2 0h2m1 0h2m2 0h2m1 0h2m1 0h3M873 161.5h1m3 0h1m2 0h1m2 0h1m3 0h1m2 0h1m3 0h1m2 0h1m3 0h1m2 0h1m2 0h1m3 0h1m2 0h1m3 0h1m2 0h1m3 0h1m2 0h1m2 0h1m3 0h1m2 0h1m3 0h1M872 162.5h3m1 0h2m1 0h3m1 0h2m1 0h6m1 0h2m1 0h3m1 0h2m1 0h3m1 0h2m1 0h3m1 0h2m1 0h2m1 0h3m1 0h2m1 0h3m1 0h2m1 0h3m1 0h2m1 0h2M873 163.5h2m1 0h2m1 0h2m2 0h2m1 0h2m2 0h2m1 0h2m2 0h2m1 0h2m1 0h2m2 0h2m1 0h2m2 0h2m1 0h2m2 0h2m1 0h2m2 0h1m2 0h2m1 0h2m2 0h2m1 0h2M872 164.5h1m2 0h1m2 0h1m3 0h1m2 0h1m2 0h2m2 0h1m2 0h2m2 0h1m2 0h1m3 0h1m2 0h1m2 0h2m2 0h1m2 0h2m2 0h1m2 0h1m3 0h1m2 0h1m2 0h2m2 0h1M872 165.5h1m1 0h6m1 0h2m1 0h3m1 0h2m1 0h3m1 0h2m1 0h6m1 0h2m1 0h3m1 0h2m1 0h3m1 0h2m1 0h3m1 0h2m1 0h2m1 0h3m1 0h2m1 0h3M872 166.5h1m1 0h2m2 0h2m1 0h2m2 0h2m1 0h2m2 0h1m2 0h2m1 0h2m2 0h2m1 0h2m2 0h2m1 0h2m2 0h1m2 0h2m1 0h2m2 0h2m1 0h2m2 0h2m1 0h2m2 0h1M873 167.5h1m2 0h2m2 0h1m2 0h2m2 0h1m2 0h1m2 0h2m2 0h1m2 0h2m2 0h1m2 0h2m2 0h1m2 0h2m1 0h2m2 0h1m2 0h2m2 0h1m2 0h2m2 0h1m2 0h2m1 0h2M872 168.5h3m1 0h2m1 0h3m1 0h2m1 0h6m1 0h2m1 0h3m1 0h2m1 0h3m1 0h2m1 0h6m1 0h2m1 0h3m1 0h2m1 0h3m1 0h2m1 0h3m1 0h2m1 0h2M873 169.5h1m2 0h2m2 0h1m2 0h2m1 0h2m2 0h2m1 0h2m2 0h1m2 0h2m2 0h1m2 0h2m1 0h2m2 0h2m1 0h2m2 0h1m2 0h2m2 0h1m2 0h2m1 0h2m2 0h2m1 0h2M872 170.5h1m2 0h1m2 0h2m1 0h2m2 0h1m2 0h2m2 0h1m2 0h2m2 0h1m2 0h2m1 0h2m2 0h1m2 0h2m2 0h1m2 0h2m2 0h1m2 0h2m1 0h2m2 0h1m2 0h2m2 0h1M872 171.5h1m1 0h6m1 0h2m1 0h3m1 0h2m1 0h3m1 0h2m1 0h6m1 0h2m1 0h3m1 0h2m1 0h3m1 0h2m1 0h3m1 0h2m1 0h2m1 0h3m1 0h2m1 0h3M872 172.5h1m2 0h1m2 0h2m1 0h2m2 0h1m2 0h2m2 0h1m2 0h2m2 0h1m2 0h2m1 0h2m2 0h1m2 0h2m2 0h1m2 0h2m2 0h1m2 0h2m1 0h2m2 0h1m2 0h2m2 0h1M873 173.5h2m1 0h2m2 0h1m2 0h2m1 0h2m2 0h2m1 0h2m2 0h2m1 0h2m2 0h1m2 0h2m1 0h2m2 0h2m1 0h2m2 0h2m1 0h2m2 0h1m2 0h2m1 0h2m2 0h2m1 0h2M872 174.5h3m1 0h2m1 0h3m1 0h2m1 0h6m1 0h2m1 0h3m1 0h2m1 0h3m1 0h2m1 0h6m1 0h2m1 0h3m1 0h2m1 0h3m1 0h2m1 0h3m1 0h2m1 0h2M873 175.5h1m2 0h2m2 0h1m2 0h2m2 0h1m2 0h1m3 0h1m2 0h1m2 0h2m2 0h1m2 0h2m2 0h1m2 0h1m3 0h1m2 0h1m2 0h2m2 0h1m2 0h2m2 0h1m2 0h1m3 0h1M872 176.5h1m1 0h2m2 0h2m1 0h2m2 0h2m1 0h2m2 0h1m2 0h2m1 0h2m2 0h2m1 0h2m2 0h2m1 0h2m2 0h1m2 0h2m1 0h2m2 0h2m1 0h2m2 0h2m1 0h2m2 0h1M872 177.5h1m1 0h6m1 0h2m1 0h3m1 0h2m1 0h3m1 0h2m1 0h3m1 0h2m1 0h2m1 0h3m1 0h2m1 0h3m1 0h2m1 0h3m1 0h2m1 0h2m1 0h3m1 0h2m1 0h3M875 178.5h1m2 0h1m3 0h1m2 0h1m3 0h1m2 0h1m2 0h1m3 0h1m2 0h1m3 0h1m2 0h1m3 0h1m2 0h1m2 0h1m3 0h1m2 0h1m3 0h1m2 0h1m3 0h1m2 0h1M873 179.5h2m1 0h2m1 0h2m2 0h2m1 0h2m2 0h2m1 0h2m2 0h2m1 0h2m1 0h3m1 0h2m1 0h2m2 0h2m1 0h2m2 0h2m1 0h2m1 0h3m1 0h2m1 0h2m2 0h2m1 0h2M872 180.5h3m1 0h2m1 0h3m1 0h2m1 0h3m1 0h2m1 0h2m1 0h3m1 0h2m1 0h3m1 0h2m1 0h3m1 0h2m1 0h2m1 0h3m1 0h2m1 0h3m1 0h2m1 0h3m1 0h2m1 0h2M873 181.5h1m6 0h1m6 0h1m2 0h1m3 0h1m2 0h1m6 0h1m6 0h1m2 0h1m3 0h1m2 0h1m6 0h1m6 0h1m2 0h1m3 0h1M872 182.5h1m1 0h2m2 0h2m1 0h2m2 0h2m1 0h2m1 0h3m1 0h2m1 0h2m2 0h2m1 0h2m2 0h2m1 0h2m1 0h3m1 0h2m1 0h2m2 0h2m1 0h2m2 0h2m1 0h2m1 0h3M872 183.5h1m1 0h3m1 0h2m1 0h2m1 0h3m1 0h2m1 0h3m1 0h2m1 0h3m1 0h2m1 0h2m1 0h3m1 0h2m1 0h3m1 0h2m1 0h3m1 0h2m1 0h2m1 0h3m1 0h2m1 0h3M873 185.5h2m1 0h2m1 0h3m1 0h2m1 0h2m2 0h2m1 0h2m2 0h2m1 0h2m1 0h3m1 0h2m1 0h2m2 0h2m1 0h2m2 0h2m1 0h2m1 0h3m1 0h2m1 0h2m2 0h2m1 0h2M872 186.5h3m1 0h2m1 0h3m1 0h2m1 0h3m1 0h2m1 0h2m1 0h3m1 0h2m1 0h3m1 0h2m1 0h3m1 0h2m1 0h2m1 0h3m1 0h2m1 0h3m1 0h2m1 0h3m1 0h2m1 0h2M872 188.5h1m1 0h2m2 0h2m1 0h2m1 0h3m1 0h2m1 0h3m1 0h2m1 0h2m2 0h2m1 0h2m1 0h3m1 0h2m1 0h3m1 0h2m1 0h3m1 0h2m1 0h2m1 0h3m1 0h2m1 0h3M872 189.5h1m1 0h3m1 0h2m1 0h2m1 0h3m1 0h2m1 0h3m1 0h2m1 0h3m1 0h2m1 0h2m1 0h3m1 0h2m1 0h3m1 0h2m1 0h3m1 0h2m1 0h2m1 0h3m1 0h2m1 0h3M872 191.5h3m1 0h2m1 0h3m1 0h2m1 0h3m1 0h2m1 0h2m1 0h3m1 0h2m1 0h3m1 0h2m1 0h3m1 0h2m1 0h2m1 0h3m1 0h2m1 0h3m1 0h2m1 0h3m1 0h2m1 0h2M872 192.5h3m1 0h2m1 0h3m1 0h2m1 0h3m1 0h2m1 0h2m1 0h3m1 0h2m1 0h3m1 0h2m1 0h3m1 0h2m1 0h2m1 0h3m1 0h2m1 0h3m1 0h2m1 0h3m1 0h2m1 0h2M872 194.5h1m1 0h3m1 0h2m1 0h2m1 0h3m1 0h2m1 0h3m1 0h2m1 0h3m1 0h2m1 0h2m1 0h3m1 0h2m1 0h3m1 0h2m1 0h3m1 0h2m1 0h2m1 0h3m1 0h2m1 0h3" stroke-width="1"/>
<rect x="948.5" y="77.8" width="9" height="28.5" stroke-width="1" fill="none"/>
<rect x="948" y="77.3" width="10" height="2" stroke="none" fill="#000"/>
<line x1="948" y1="83.8" x2="958" y2="83.8" stroke-width="1"/>
<line x1="948" y1="88.8" x2="958" y2="88.8" stroke-width="1"/>
<rect x="948" y="92.8" width="10" height="2" stroke="none" fill="#000"/>
<rect x="950.5" y="106.3" width="5" height="9" stroke-width="1" fill="none"/>
<line x1="950.5" y1="109.8" x2="955.5" y2="109.8" stroke-width="1"/>
<line x1="950.5" y1="112.8" x2="955.5" y2="112.8" stroke-width="1"/>
<rect x="949.5" y="114.8" width="7" height="2.5" stroke="none" fill="#000"/>
<rect x="961" y="167.2" width="2.2" height="24" stroke-width="1" fill="none"/>
<rect x="963.2" y="179.5" width="2" height="10" stroke-width="1" fill="none"/>
<circle cx="900.9" cy="273.3" r="5.5" stroke-width="1.2" fill="#000"/>
<path d="M898.8 275.6 L898.8 272.2 L903.4 272.2" stroke="#e7e7db" stroke-width="0.9" fill="none"/>
<rect x="939.2" y="265.2" width="7.4" height="9.8" stroke="none" fill="#000"/>
<path d="M941 271.5 L943.6 267.6 L944.6 271.5 M940.5 273.5 L945 273.5" stroke="#e7e7db" stroke-width="0.9" fill="none"/>
<rect x="949.5" y="265.2" width="6.8" height="9.8" stroke="none" fill="#000"/>
<path d="M950.6 270.5 L952.8 267.4 L955 270.5 M950.6 273 L952.8 270.4 L955 273" stroke="#e7e7db" stroke-width="0.9" fill="none"/>
<path d="M951.4 275.5 L951.4 290 Q953.6 291.5 954.4 286 L954.4 279.5" stroke-width="1.2" fill="none"/>
<rect x="951" y="226.5" width="2.8" height="3" stroke-width="1" fill="none"/>
<rect x="939.6" y="223.8" width="1.4" height="0.8" stroke="none" fill="#000"/>
<rect x="941.2" y="225.2" width="2.2" height="0.8" stroke="none" fill="#000"/>
<rect x="941.2" y="226.8" width="2.2" height="0.8" stroke="none" fill="#000"/>
<rect x="939.5" y="316.6" width="5.3" height="1" stroke="none" fill="#000"/>
<rect x="941.5" y="318.8" width="1.5" height="1.4" stroke="none" fill="#000"/>
<path d="M951 315 Q952 319 953.6 315" stroke-width="1" fill="none"/>
<rect x="689.5" y="152" width="1" height="1" stroke="none" fill="#000"/>
<rect x="781" y="154" width="1" height="1" stroke="none" fill="#000"/>
<rect x="784" y="231" width="1" height="1" stroke="none" fill="#000"/>
<rect x="784" y="236" width="1" height="1" stroke="none" fill="#000"/>
<rect x="784" y="241" width="1" height="1" stroke="none" fill="#000"/>
<rect x="822" y="334" width="1" height="1" stroke="none" fill="#000"/>
<rect x="863" y="331" width="1" height="1" stroke="none" fill="#000"/>
<rect x="925" y="297" width="1" height="1" stroke="none" fill="#000"/>
<rect x="911" y="198" width="1" height="1" stroke="none" fill="#000"/>
<rect x="663.2" y="354" width="14.4" height="1.8" stroke="none" fill="#000"/>
<path d="M664.4 355.8 L666.4 358" stroke-width="1" fill="none"/>
<path d="M676.4 355.8 L674.4 358" stroke-width="1" fill="none"/>
<ellipse cx="670.4" cy="362.8" rx="6.2" ry="5.2" stroke-width="1.7" fill="none"/>
<rect x="663.9" y="362.2" width="13" height="1.6" stroke="none" fill="#000"/>
<rect x="668.4" y="358.8" width="4" height="3.8" stroke-width="1.6" fill="#e7e7db"/>
<rect x="666.4" y="366.2" width="8" height="1" stroke="none" fill="#e7e7db"/>
<rect x="667.9" y="367.6" width="5" height="1.2" stroke="none" fill="#000"/>
<rect x="794.6" y="354" width="14.4" height="1.8" stroke="none" fill="#000"/>
<path d="M795.8 355.8 L797.8 358" stroke-width="1" fill="none"/>
<path d="M807.8 355.8 L805.8 358" stroke-width="1" fill="none"/>
<ellipse cx="801.8" cy="362.8" rx="6.2" ry="5.2" stroke-width="1.7" fill="none"/>
<rect x="795.3" y="362.2" width="13" height="1.6" stroke="none" fill="#000"/>
<rect x="799.8" y="358.8" width="4" height="3.8" stroke-width="1.6" fill="#e7e7db"/>
<rect x="797.8" y="366.2" width="8" height="1" stroke="none" fill="#e7e7db"/>
<rect x="799.3" y="367.6" width="5" height="1.2" stroke="none" fill="#000"/>
<rect x="932.6" y="354" width="14.4" height="1.8" stroke="none" fill="#000"/>
<path d="M933.8 355.8 L935.8 358" stroke-width="1" fill="none"/>
<path d="M945.8 355.8 L943.8 358" stroke-width="1" fill="none"/>
<ellipse cx="939.8" cy="362.8" rx="6.2" ry="5.2" stroke-width="1.7" fill="none"/>
<rect x="933.3" y="362.2" width="13" height="1.6" stroke="none" fill="#000"/>
<rect x="937.8" y="358.8" width="4" height="3.8" stroke-width="1.6" fill="#e7e7db"/>
<rect x="935.8" y="366.2" width="8" height="1" stroke="none" fill="#e7e7db"/>
<rect x="937.3" y="367.6" width="5" height="1.2" stroke="none" fill="#000"/>
</g>
<g id="balloons2">
<circle cx="655.5" cy="81.2" r="12.9" stroke-width="1" fill="none"/>
<text transform="translate(655.5 85.8) scale(0.5 1)" text-anchor="middle" font-size="12.5" stroke="#000" stroke-width="0.35">8</text>
<line x1="661.8" y1="92.4" x2="693.8" y2="147.9" stroke-width="1"/>
<circle cx="693.8" cy="147.9" r="1.6" stroke-width="0.5" fill="#000"/>
<circle cx="775.8" cy="90.9" r="12.9" stroke-width="1" fill="none"/>
<text transform="translate(775.8 95.5) scale(0.5 1)" text-anchor="middle" font-size="12.5" stroke="#000" stroke-width="0.35">9</text>
<line x1="767.1" y1="100.4" x2="735.2" y2="131.3" stroke-width="1"/>
<circle cx="735.2" cy="131.3" r="1.6" stroke-width="0.5" fill="#000"/>
<circle cx="868.3" cy="307.1" r="12.9" stroke-width="1" fill="none"/>
<text transform="translate(868.3 311.7) scale(0.6 1)" text-anchor="middle" font-size="12.5" stroke="#000" stroke-width="0.35">10</text>
<line x1="877.1" y1="297.7" x2="897.5" y2="277.4" stroke-width="1"/>
</g>
<g id="iso">
<line x1="14.8" y1="356.3" x2="22.6" y2="352.4" stroke-width="1"/>
<line x1="22.6" y1="352.4" x2="132" y2="288.8" stroke-width="2.5"/>
<line x1="132" y1="288.8" x2="138.9" y2="285" stroke-width="1"/>
<line x1="138.9" y1="285" x2="232.7" y2="340.1" stroke-width="1"/>
<line x1="132" y1="288.8" x2="225.8" y2="343.3" stroke-width="2.5"/>
<line x1="232.7" y1="340.1" x2="337.5" y2="400.6" stroke-width="2.5"/>
<line x1="233.9" y1="345.1" x2="331" y2="401.3" stroke-width="2.5"/>
<line x1="113.8" y1="408.3" x2="232.7" y2="340.1" stroke-width="2.5"/>
<line x1="118.8" y1="410.8" x2="233.9" y2="345.1" stroke-width="2.5"/>
<line x1="23" y1="353.4" x2="113.5" y2="406.2" stroke-width="1.3"/>
<line x1="14.6" y1="356.5" x2="110.3" y2="409.6" stroke-width="1"/>
<line x1="185.3" y1="373.6" x2="279.2" y2="429.5" stroke-width="2.5"/>
<line x1="177.1" y1="377.6" x2="274.2" y2="433.8" stroke-width="2.5"/>
<line x1="118.8" y1="410.8" x2="216.6" y2="466.9" stroke-width="2.5"/>
<line x1="110.7" y1="411.9" x2="214.8" y2="471.3" stroke-width="1"/>
<line x1="216.6" y1="466.9" x2="333.5" y2="401.6" stroke-width="2.5"/>
<line x1="217.3" y1="470.7" x2="335" y2="404.6" stroke-width="2.5"/>
<line x1="233.5" y1="472.9" x2="340.3" y2="411.7" stroke-width="1"/>
<path d="M217.3 471.3 L222.3 476 L233.5 472.9" stroke-width="1" fill="none"/>
<ellipse cx="275.4" cy="394.2" rx="8.3" ry="5.6" stroke-width="1.2" fill="none"/>
<ellipse cx="275.4" cy="391.4" rx="6.6" ry="4.2" stroke-width="1.2" fill="none"/>
<line x1="267.1" y1="391.5" x2="267.1" y2="394.5" stroke-width="1.2"/>
<line x1="283.7" y1="391.5" x2="283.7" y2="394.5" stroke-width="1.2"/>
<ellipse cx="275.6" cy="393.2" rx="4.4" ry="2.4" stroke-width="1" fill="none"/>
<line x1="216.4" y1="470.5" x2="216.4" y2="541" stroke-width="1.3"/>
<line x1="216.3" y1="541" x2="216.3" y2="658" stroke-width="2.2"/>
<line x1="222.4" y1="476" x2="222.4" y2="544" stroke-width="1.2"/>
<line x1="222.3" y1="544" x2="222.3" y2="659" stroke-width="2"/>
<line x1="233.6" y1="472.9" x2="233.6" y2="655.2" stroke-width="1"/>
<line x1="209.6" y1="537" x2="209.6" y2="652" stroke-width="1"/>
<line x1="340.5" y1="411.7" x2="340.5" y2="593" stroke-width="1"/>
<line x1="346.3" y1="404" x2="346.3" y2="588" stroke-width="2.6"/>
<line x1="337.5" y1="400.6" x2="345.5" y2="404.5" stroke-width="2.5"/>
<path d="M220.6 542.6 Q228 542 233.8 539.2 L347 474.5" stroke-width="2.5" fill="none"/>
<path d="M223.2 658.4 Q229 658 233.9 655.2 L340.5 593 Q345 590 347 587" stroke-width="1" fill="none"/>
<path d="M247.4 494 L326 449.6 L326 482.4 L247.4 526.8 Z" stroke-width="2.2" fill="none"/>
<path d="M249.6 495.6 L324.2 453.4" stroke-width="1" fill="none"/>
<path d="M249.6 522.6 L324.2 480.2" stroke-width="1" fill="none"/>
<path d="M270 492.5 L289.3 481.6 L289.3 500.5 L270 511.4 Z" stroke-width="1.6" fill="none"/>
<path d="M270 495.5 L289.3 484.6" stroke-width="1.4" fill="none"/>
<path d="M253.5 504.4 L257.5 502.2" stroke-width="1.3" fill="none"/>
<path d="M262.6 499.4 L265.8 497.6" stroke-width="1.3" fill="none"/>
<path d="M253.6 510.5 L258 508 L258 512.4 L253.6 514.9 Z" stroke-width="1.2" fill="none"/>
<path d="M262.6 507.4 L265.8 505.6" stroke-width="1.3" fill="none"/>
<ellipse cx="294.6" cy="492.3" rx="2.2" ry="3" stroke-width="1.8" fill="none"/>
<rect x="294.2" y="486.7" width="2.6" height="2.2" stroke="none" fill="#000"/>
<ellipse cx="300.2" cy="489.15" rx="2.2" ry="3" stroke-width="1.8" fill="none"/>
<rect x="299.8" y="483.55" width="2.6" height="2.2" stroke="none" fill="#000"/>
<ellipse cx="305.8" cy="486" rx="2.2" ry="3" stroke-width="1.8" fill="none"/>
<rect x="305.4" y="480.4" width="2.6" height="2.2" stroke="none" fill="#000"/>
<ellipse cx="311.4" cy="482.85" rx="2.2" ry="3" stroke-width="1.8" fill="none"/>
<rect x="311" y="477.25" width="2.6" height="2.2" stroke="none" fill="#000"/>
<ellipse cx="317" cy="479.7" rx="2.2" ry="3" stroke-width="1.8" fill="none"/>
<rect x="316.6" y="474.1" width="2.6" height="2.2" stroke="none" fill="#000"/>
<text transform="matrix(0.74 -0.42 0 1 290.6 481)" font-size="6.6" font-weight="900" textLength="44" lengthAdjust="spacingAndGlyphs" stroke="#000" stroke-width="0.7">OK冷热冲击试验箱</text>
<line x1="257" y1="524.5" x2="257" y2="643" stroke-width="2.5"/>
<line x1="264.4" y1="520.5" x2="264.4" y2="638" stroke-width="2.5"/>
<line x1="310.6" y1="494.5" x2="310.6" y2="610.5" stroke-width="1"/>
<line x1="317" y1="491" x2="317" y2="606.5" stroke-width="2.5"/>
<rect x="260.2" y="532" width="1" height="1.4" stroke="none" fill="#000"/>
<rect x="312.8" y="497" width="1" height="1.4" stroke="none" fill="#000"/>
<rect x="260.2" y="542.6" width="1" height="1.4" stroke="none" fill="#000"/>
<rect x="312.8" y="507.6" width="1" height="1.4" stroke="none" fill="#000"/>
<rect x="260.2" y="553.2" width="1" height="1.4" stroke="none" fill="#000"/>
<rect x="312.8" y="518.2" width="1" height="1.4" stroke="none" fill="#000"/>
<rect x="260.2" y="563.8" width="1" height="1.4" stroke="none" fill="#000"/>
<rect x="312.8" y="528.8" width="1" height="1.4" stroke="none" fill="#000"/>
<rect x="260.2" y="574.4" width="1" height="1.4" stroke="none" fill="#000"/>
<rect x="312.8" y="539.4" width="1" height="1.4" stroke="none" fill="#000"/>
<rect x="260.2" y="585" width="1" height="1.4" stroke="none" fill="#000"/>
<rect x="312.8" y="550" width="1" height="1.4" stroke="none" fill="#000"/>
<rect x="260.2" y="595.6" width="1" height="1.4" stroke="none" fill="#000"/>
<rect x="312.8" y="560.6" width="1" height="1.4" stroke="none" fill="#000"/>
<rect x="260.2" y="606.2" width="1" height="1.4" stroke="none" fill="#000"/>
<rect x="312.8" y="571.2" width="1" height="1.4" stroke="none" fill="#000"/>
<rect x="260.2" y="616.8" width="1" height="1.4" stroke="none" fill="#000"/>
<rect x="312.8" y="581.8" width="1" height="1.4" stroke="none" fill="#000"/>
<rect x="260.2" y="627.4" width="1" height="1.4" stroke="none" fill="#000"/>
<rect x="312.8" y="592.4" width="1" height="1.4" stroke="none" fill="#000"/>
<rect x="260.2" y="638" width="1" height="1.4" stroke="none" fill="#000"/>
<rect x="312.8" y="603" width="1" height="1.4" stroke="none" fill="#000"/>
<line x1="264.7" y1="553.4" x2="310.6" y2="527.6" stroke-width="1"/>
<line x1="264.7" y1="562.6" x2="310.6" y2="536.8" stroke-width="2"/>
<line x1="264.7" y1="614.2" x2="310.6" y2="590.1" stroke-width="1"/>
<line x1="264.7" y1="622.3" x2="310.6" y2="597.9" stroke-width="2"/>
<rect x="272" y="553.6" width="1" height="1" stroke="none" fill="#000"/>
<rect x="272" y="613.2" width="1" height="1" stroke="none" fill="#000"/>
<rect x="281.5" y="548.3" width="1" height="1" stroke="none" fill="#000"/>
<rect x="281.5" y="608.1" width="1" height="1" stroke="none" fill="#000"/>
<rect x="291" y="543" width="1" height="1" stroke="none" fill="#000"/>
<rect x="291" y="603" width="1" height="1" stroke="none" fill="#000"/>
<rect x="300.5" y="537.7" width="1" height="1" stroke="none" fill="#000"/>
<rect x="300.5" y="597.9" width="1" height="1" stroke="none" fill="#000"/>
<path d="M273.6 569.6 L300.4 554.5 L300.4 583.8 L273.6 600.1 Z" stroke-width="2.2" fill="none"/>
<path d="M276 596 L298.2 582.6 L298.2 557.5" stroke-width="1" fill="none"/>
<path d="M324.6 603.6 L333 598.8 L337.6 599 L330 604 Z" stroke-width="1" fill="none"/>
<line x1="333" y1="597.5" x2="338" y2="597.5" stroke-width="1.4"/>
<line x1="14.9" y1="356.3" x2="14.9" y2="548.5" stroke-width="2"/>
<line x1="21.3" y1="361" x2="21.3" y2="544" stroke-width="1.6"/>
<rect x="18.1" y="366" width="1" height="1.6" stroke="none" fill="#000"/>
<rect x="18.1" y="375.9" width="1" height="1.6" stroke="none" fill="#000"/>
<rect x="18.1" y="385.8" width="1" height="1.6" stroke="none" fill="#000"/>
<rect x="18.1" y="395.7" width="1" height="1.6" stroke="none" fill="#000"/>
<rect x="18.1" y="405.6" width="1" height="1.6" stroke="none" fill="#000"/>
<rect x="18.1" y="415.5" width="1" height="1.6" stroke="none" fill="#000"/>
<rect x="18.1" y="425.4" width="1" height="1.6" stroke="none" fill="#000"/>
<rect x="18.1" y="435.3" width="1" height="1.6" stroke="none" fill="#000"/>
<rect x="18.1" y="445.2" width="1" height="1.6" stroke="none" fill="#000"/>
<rect x="18.1" y="455.1" width="1" height="1.6" stroke="none" fill="#000"/>
<rect x="18.1" y="465" width="1" height="1.6" stroke="none" fill="#000"/>
<rect x="18.1" y="474.9" width="1" height="1.6" stroke="none" fill="#000"/>
<rect x="18.1" y="484.8" width="1" height="1.6" stroke="none" fill="#000"/>
<rect x="18.1" y="494.7" width="1" height="1.6" stroke="none" fill="#000"/>
<rect x="18.1" y="504.6" width="1" height="1.6" stroke="none" fill="#000"/>
<rect x="18.1" y="514.5" width="1" height="1.6" stroke="none" fill="#000"/>
<rect x="18.1" y="524.4" width="1" height="1.6" stroke="none" fill="#000"/>
<rect x="18.1" y="534.3" width="1" height="1.6" stroke="none" fill="#000"/>
<rect x="18.1" y="544.2" width="1" height="1.6" stroke="none" fill="#000"/>
<line x1="21.5" y1="368.8" x2="100" y2="414.6" stroke-width="2.5"/>
<line x1="99.9" y1="414" x2="99.9" y2="434" stroke-width="1"/>
<line x1="102.4" y1="408" x2="102.4" y2="588" stroke-width="1.3"/>
<line x1="109.4" y1="410" x2="109.4" y2="594.5" stroke-width="2.5"/>
<rect x="105.4" y="424" width="1" height="1.6" stroke="none" fill="#000"/>
<rect x="105.4" y="433.9" width="1" height="1.6" stroke="none" fill="#000"/>
<rect x="105.4" y="443.8" width="1" height="1.6" stroke="none" fill="#000"/>
<rect x="105.4" y="453.7" width="1" height="1.6" stroke="none" fill="#000"/>
<rect x="105.4" y="463.6" width="1" height="1.6" stroke="none" fill="#000"/>
<rect x="105.4" y="473.5" width="1" height="1.6" stroke="none" fill="#000"/>
<rect x="105.4" y="483.4" width="1" height="1.6" stroke="none" fill="#000"/>
<rect x="105.4" y="493.3" width="1" height="1.6" stroke="none" fill="#000"/>
<rect x="105.4" y="503.2" width="1" height="1.6" stroke="none" fill="#000"/>
<rect x="105.4" y="513.1" width="1" height="1.6" stroke="none" fill="#000"/>
<rect x="105.4" y="523" width="1" height="1.6" stroke="none" fill="#000"/>
<rect x="105.4" y="532.9" width="1" height="1.6" stroke="none" fill="#000"/>
<rect x="105.4" y="542.8" width="1" height="1.6" stroke="none" fill="#000"/>
<rect x="105.4" y="552.7" width="1" height="1.6" stroke="none" fill="#000"/>
<rect x="105.4" y="562.6" width="1" height="1.6" stroke="none" fill="#000"/>
<rect x="105.4" y="572.5" width="1" height="1.6" stroke="none" fill="#000"/>
<rect x="105.4" y="582.4" width="1" height="1.6" stroke="none" fill="#000"/>
<line x1="22.9" y1="387" x2="96" y2="429.6" stroke-width="1"/>
<line x1="22.9" y1="390.7" x2="98.1" y2="434.3" stroke-width="2.5"/>
<line x1="39" y1="399.5" x2="39" y2="457.5" stroke-width="1.6"/>
<line x1="42.8" y1="401.5" x2="42.8" y2="459.5" stroke-width="2.4"/>
<line x1="90" y1="430" x2="90" y2="486.6" stroke-width="1.6"/>
<line x1="92.4" y1="431" x2="92.4" y2="488" stroke-width="1"/>
<line x1="95.4" y1="433" x2="95.4" y2="489.5" stroke-width="1"/>
<line x1="98.4" y1="434" x2="98.4" y2="520" stroke-width="1.2"/>
<line x1="22.4" y1="448.9" x2="98.1" y2="490.5" stroke-width="2.5"/>
<line x1="22.4" y1="452.6" x2="98.1" y2="494.1" stroke-width="1"/>
<path d="M54.2 391.1 L68.7 398.9 L68.7 412.3 L54.2 405.2 Z" stroke-width="0.6" fill="#000"/>
<path d="M54.2 470.2 L68.7 478.7 L68.7 493.2 L54.2 486.3 Z" stroke-width="0.6" fill="#000"/>
<path d="M25.4 415.2 L32.6 419.2 L32.6 431.4 L25.4 427.6 Z" stroke-width="1.6" fill="none"/>
<path d="M27.6 418.6 L31 420.4 L31 428.2 L27.6 426.4 Z" stroke-width="1.2" fill="#000"/>
<rect x="96" y="420.2" width="7.4" height="13.8" stroke="none" fill="#000"/>
<rect x="103.4" y="422.8" width="3" height="11.4" stroke-width="1.4" fill="none"/>
<ellipse cx="23.4" cy="375.8" rx="1.6" ry="1.4" stroke-width="1" fill="#000"/>
<ellipse cx="23.4" cy="465.2" rx="1.8" ry="1.5" stroke-width="1" fill="#000"/>
<line x1="22.6" y1="471.3" x2="100.3" y2="514.3" stroke-width="2.5"/>
<line x1="22.6" y1="477.5" x2="101.6" y2="521.4" stroke-width="1"/>
<line x1="27" y1="540" x2="101.6" y2="581.4" stroke-width="2.5"/>
<line x1="101.6" y1="581.4" x2="108.5" y2="592.5" stroke-width="1"/>
<line x1="24.2" y1="480" x2="24.2" y2="536" stroke-width="1"/>
<path d="M26 488.5h2M25 489.5h3M25 490.5h2m3 0h2M28 491.5h4M27 492.5h4m2 0h2M25 493.5h4m3 0h4M25 494.5h3m2 0h5m2 0h2M25 495.5h1m3 0h4m3 0h4M27 496.5h5m2 0h4m3 0h1M26 497.5h4m3 0h4m3 0h4M25 498.5h4m2 0h4m3 0h4m3 0h1M25 499.5h2m3 0h4m3 0h4m2 0h4M25 500.5h1m2 0h4m3 0h4m3 0h4M27 501.5h4m3 0h4m2 0h5m2 0h4M25 502.5h5m2 0h4m3 0h4m3 0h4m2 0h1M25 503.5h3m3 0h4m2 0h5m2 0h4m3 0h4M25 504.5h2m2 0h4m3 0h4m3 0h4m3 0h4M28 505.5h4m3 0h4m2 0h4m3 0h4m3 0h3M26 506.5h4m3 0h4m3 0h4m3 0h4m2 0h4M25 507.5h4m3 0h4m2 0h4m3 0h4m3 0h4m3 0h3M25 508.5h2m3 0h4m3 0h4m3 0h4m2 0h5m2 0h4M25 509.5h1m3 0h4m2 0h5m2 0h4m3 0h4m3 0h4m2 0h3M27 510.5h4m3 0h4m3 0h4m3 0h4m2 0h4m3 0h4M26 511.5h4m2 0h5m2 0h4m3 0h4m3 0h4m3 0h4m2 0h3M25 512.5h3m3 0h4m3 0h4m3 0h4m2 0h4m3 0h4m3 0h4M25 513.5h2m3 0h4m2 0h4m3 0h4m3 0h4m3 0h4m2 0h4m3 0h2M28 514.5h4m3 0h4m3 0h4m2 0h4m3 0h4m3 0h4m3 0h4M27 515.5h4m2 0h4m3 0h4m3 0h4m3 0h4m2 0h5m2 0h4m3 0h2M25 516.5h4m3 0h4m3 0h4m2 0h5m2 0h4m3 0h4m3 0h4m3 0h4M25 517.5h3m2 0h5m2 0h4m3 0h4m3 0h4m2 0h5m2 0h4m3 0h4m3 0h1M25 518.5h1m3 0h4m3 0h4m2 0h5m2 0h4m3 0h4m3 0h4m3 0h4m2 0h4M27 519.5h5m2 0h4m3 0h4m3 0h4m3 0h4m2 0h4m3 0h4m3 0h4m3 0h1M26 520.5h4m3 0h4m3 0h4m2 0h4m3 0h4m3 0h4m3 0h4m2 0h4m3 0h4M25 521.5h4m2 0h4m3 0h4m3 0h4m3 0h4m2 0h4m3 0h4m3 0h4m3 0h4m2 0h1M25 522.5h2m3 0h4m3 0h4m2 0h5m2 0h4m3 0h4m3 0h4m2 0h5m2 0h4m3 0h4M25 523.5h1m2 0h4m3 0h4m3 0h4m3 0h4m2 0h5m2 0h4m3 0h4m3 0h4m2 0h5m2 0h1M27 524.5h4m3 0h4m2 0h5m2 0h4m3 0h4m3 0h4m2 0h5m2 0h4m3 0h4m3 0h4M25 525.5h5m2 0h4m3 0h4m3 0h4m2 0h5m2 0h4m3 0h4m3 0h4m3 0h4m2 0h4M25 526.5h3m3 0h4m2 0h5m2 0h4m3 0h4m3 0h4m3 0h4m2 0h4m3 0h4m3 0h4m3 0h3M25 527.5h2m2 0h4m3 0h4m3 0h4m3 0h4m2 0h4m3 0h4m3 0h4m3 0h4m2 0h4m3 0h4M28 528.5h4m3 0h4m2 0h4m3 0h4m3 0h4m3 0h4m2 0h5m2 0h4m3 0h4m3 0h4m2 0h4M26 529.5h4m3 0h4m3 0h4m3 0h4m2 0h4m3 0h4m3 0h4m3 0h4m2 0h5m2 0h4m3 0h4M25 530.5h4m3 0h4m2 0h4m3 0h4m3 0h4m3 0h4m2 0h5m2 0h4m3 0h4m3 0h4m2 0h5m2 0h1M25 531.5h2m3 0h4m3 0h4m3 0h4m2 0h5m2 0h4m3 0h4m3 0h4m2 0h5m2 0h4m3 0h4m3 0h2M25 532.5h1m3 0h4m2 0h5m2 0h4m3 0h4m3 0h4m2 0h5m2 0h4m3 0h4m3 0h4m3 0h4m2 0h4M27 533.5h4m3 0h4m3 0h4m3 0h4m2 0h4m3 0h4m3 0h4m3 0h4m2 0h4m3 0h4m3 0h4M28 534.5h2m2 0h5m2 0h4m3 0h4m3 0h4m3 0h4m2 0h4m3 0h4m3 0h4m3 0h4m2 0h4M31 535.5h4m3 0h4m3 0h4m2 0h4m3 0h4m3 0h4m3 0h4m2 0h4m3 0h4m3 0h4m3 0h1M31 536.5h3m2 0h4m3 0h4m3 0h4m3 0h4m2 0h4m3 0h4m3 0h4m3 0h4m2 0h5m2 0h3M35 537.5h4m3 0h4m2 0h4m3 0h4m3 0h4m3 0h4m2 0h5m2 0h4m3 0h4m3 0h4M35 538.5h2m3 0h4m3 0h4m3 0h4m2 0h5m2 0h4m3 0h4m3 0h4m2 0h5m2 0h4M39 539.5h4m2 0h5m2 0h4m3 0h4m3 0h4m2 0h5m2 0h4m3 0h4m3 0h4M39 540.5h2m3 0h4m3 0h4m2 0h5m2 0h4m3 0h4m3 0h4m3 0h4m2 0h4m3 0h2M42 541.5h5m2 0h4m3 0h4m3 0h4m3 0h4m2 0h4m3 0h4m3 0h4m3 0h3M42 542.5h3m3 0h4m3 0h4m2 0h4m3 0h4m3 0h4m3 0h4m2 0h4m3 0h4M46 543.5h4m3 0h4m3 0h4m3 0h4m2 0h4m3 0h4m3 0h4m3 0h4M46 544.5h3m3 0h4m2 0h4m3 0h4m3 0h4m3 0h4m2 0h5m2 0h4m3 0h1M50 545.5h4m3 0h4m3 0h4m2 0h5m2 0h4m3 0h4m3 0h4m2 0h3M49 546.5h4m2 0h5m2 0h4m3 0h4m3 0h4m2 0h5m2 0h4m3 0h4M54 547.5h4m3 0h4m2 0h5m2 0h4m3 0h4m3 0h4m3 0h4M53 548.5h4m2 0h4m3 0h4m3 0h4m3 0h4m2 0h4m3 0h4M58 549.5h4m3 0h4m2 0h4m3 0h4m3 0h4m3 0h4m2 0h2M57 550.5h3m3 0h4m3 0h4m3 0h4m2 0h4m3 0h4m3 0h3M58 551.5h1m3 0h4m2 0h4m3 0h4m3 0h4m3 0h4m2 0h5M60 552.5h4m3 0h4m3 0h4m2 0h5m2 0h4m3 0h4M62 553.5h1m2 0h5m2 0h4m3 0h4m3 0h4m2 0h5m2 0h1M64 554.5h4m3 0h4m2 0h5m2 0h4m3 0h4m3 0h2M66 555.5h1m2 0h4m3 0h4m3 0h4m3 0h4m2 0h4M68 556.5h4m3 0h4m2 0h4m3 0h4m3 0h4M69 557.5h1m3 0h4m3 0h4m3 0h4m2 0h4M72 558.5h4m2 0h4m3 0h4m3 0h4m3 0h1M73 559.5h1m3 0h4m3 0h4m2 0h5m2 0h3M75 560.5h5m2 0h4m3 0h4m3 0h4M76 561.5h2m3 0h4m2 0h5m2 0h4M79 562.5h4m3 0h4m3 0h4M80 563.5h2m3 0h4m2 0h4m3 0h2M83 564.5h4m3 0h4m3 0h3M84 565.5h2m2 0h4m3 0h4M87 566.5h4m3 0h4M87 567.5h3m2 0h4m3 0h1M91 568.5h4m2 0h3M91 569.5h2m3 0h4M95 570.5h4M94 571.5h3M98 572.5h2M98 573.5h2" stroke-width="1"/>
<line x1="14.4" y1="543.8" x2="109" y2="595.2" stroke-width="1.6"/>
<line x1="15.2" y1="548.6" x2="110" y2="600.4" stroke-width="1"/>
<path d="M16 549.6L110 601" stroke-width="1" stroke-dasharray="2 1.4" transform="translate(0 1.2)"/>
<line x1="14.6" y1="543" x2="14.6" y2="549" stroke-width="2.5"/>
<path d="M61 568.5 L61 573 L63 571" stroke-width="1.2" fill="none"/>
<path d="M69 572.5 L69 578" stroke-width="1.2" fill="none"/>
<line x1="112.5" y1="480" x2="221" y2="542.4" stroke-width="1.8"/>
<line x1="134.7" y1="492.5" x2="134.7" y2="609" stroke-width="2.6"/>
<line x1="108.8" y1="593.9" x2="216.5" y2="655.2" stroke-width="2.5"/>
<line x1="110" y1="600.4" x2="211.5" y2="658.4" stroke-width="1"/>
<path d="M110 601.6L211.5 659.6" stroke-width="1" stroke-dasharray="2 1.4"/>
<line x1="111.6" y1="596" x2="111.6" y2="602" stroke-width="1"/>
<line x1="153.4" y1="620" x2="153.4" y2="626" stroke-width="1"/>
<line x1="199.6" y1="646" x2="199.6" y2="652" stroke-width="1"/>
<ellipse cx="182.1" cy="580.1" rx="3.5" ry="4" stroke-width="2.8" fill="none"/>
<path d="M209 589 L221.8 594.5 L221.8 603.5 L209 597.8 Z" stroke-width="0.6" fill="#000"/>
<path d="M212.5 601 Q210.5 612 213 624" stroke-width="1.4" fill="none"/>
<rect x="212.6" y="606" width="2" height="12" stroke="none" fill="#000"/>
<circle cx="209.6" cy="557.8" r="1.6" stroke-width="1" fill="none"/>
<circle cx="218.2" cy="563.8" r="1.6" stroke-width="1" fill="none"/>
<circle cx="209.8" cy="634.4" r="1.6" stroke-width="1" fill="none"/>
<rect x="216.8" y="635.6" width="2.8" height="3" stroke-width="1" fill="none"/>
<rect x="213" y="548" width="1" height="1.4" stroke="none" fill="#000"/>
<rect x="219.6" y="552" width="1" height="1.4" stroke="none" fill="#000"/>
<rect x="213" y="558.5" width="1" height="1.4" stroke="none" fill="#000"/>
<rect x="219.6" y="562.5" width="1" height="1.4" stroke="none" fill="#000"/>
<rect x="213" y="569" width="1" height="1.4" stroke="none" fill="#000"/>
<rect x="219.6" y="573" width="1" height="1.4" stroke="none" fill="#000"/>
<rect x="213" y="579.5" width="1" height="1.4" stroke="none" fill="#000"/>
<rect x="219.6" y="583.5" width="1" height="1.4" stroke="none" fill="#000"/>
<rect x="213" y="590" width="1" height="1.4" stroke="none" fill="#000"/>
<rect x="219.6" y="594" width="1" height="1.4" stroke="none" fill="#000"/>
<rect x="213" y="600.5" width="1" height="1.4" stroke="none" fill="#000"/>
<rect x="219.6" y="604.5" width="1" height="1.4" stroke="none" fill="#000"/>
<rect x="213" y="611" width="1" height="1.4" stroke="none" fill="#000"/>
<rect x="219.6" y="615" width="1" height="1.4" stroke="none" fill="#000"/>
<rect x="213" y="621.5" width="1" height="1.4" stroke="none" fill="#000"/>
<rect x="219.6" y="625.5" width="1" height="1.4" stroke="none" fill="#000"/>
<rect x="213" y="632" width="1" height="1.4" stroke="none" fill="#000"/>
<rect x="219.6" y="636" width="1" height="1.4" stroke="none" fill="#000"/>
<rect x="213" y="642.5" width="1" height="1.4" stroke="none" fill="#000"/>
<rect x="219.6" y="646.5" width="1" height="1.4" stroke="none" fill="#000"/>
<path d="M333.4 375.4 L333.4 396.2 Q338 399.4 342.8 396.2 L342.8 375.4" stroke-width="1.2" fill="none"/>
<ellipse cx="338.1" cy="375.2" rx="4.7" ry="2.6" stroke-width="1.2" fill="none"/>
<path d="M333.4 379.4 Q338 382.59999999999997 342.8 379.4" stroke-width="1.2" fill="none"/>
<path d="M333.4 383.4 Q338 386.59999999999997 342.8 383.4" stroke-width="1.2" fill="none"/>
<path d="M333.4 387.4 Q338 390.59999999999997 342.8 387.4" stroke-width="1.2" fill="none"/>
<line x1="336.6" y1="398" x2="336.6" y2="401.5" stroke-width="1.2"/>
<line x1="339.8" y1="398" x2="339.8" y2="401.5" stroke-width="1.2"/>
<ellipse cx="338.4" cy="402.6" rx="3" ry="1.8" stroke-width="1.6" fill="none"/>
<ellipse cx="24.2" cy="557" rx="5.6" ry="3.4" stroke-width="1.3" fill="none"/>
<ellipse cx="23.6" cy="555.4" rx="4.2" ry="2.6" stroke-width="1.3" fill="#000"/>
<ellipse cx="22.8" cy="554.6" rx="1.4" ry="1.1" stroke-width="1" fill="#e7e7db"/>
<ellipse cx="117.6" cy="610" rx="5.6" ry="3.4" stroke-width="1.3" fill="none"/>
<ellipse cx="117" cy="608.4" rx="4.2" ry="2.6" stroke-width="1.3" fill="#000"/>
<ellipse cx="116.2" cy="607.6" rx="1.4" ry="1.1" stroke-width="1" fill="#e7e7db"/>
<ellipse cx="217" cy="665.6" rx="5.6" ry="3.4" stroke-width="1.3" fill="none"/>
<ellipse cx="216.4" cy="664" rx="4.2" ry="2.6" stroke-width="1.3" fill="#000"/>
<ellipse cx="215.6" cy="663.2" rx="1.4" ry="1.1" stroke-width="1" fill="#e7e7db"/>
<path d="M216 408.5h1M214 409.5h1m1 0h2M213 410.5h2m1 0h2m1 0h1M210 411.5h2m1 0h2m2 0h2m1 0h2M211 412.5h2m1 0h2m1 0h1m2 0h2m1 0h1M209 413.5h1m1 0h2m1 0h2m1 0h2m2 0h2m1 0h1M205 414.5h2m1 0h2m2 0h2m1 0h2m1 0h1m2 0h2m1 0h2M203 415.5h1m2 0h2m1 0h2m1 0h1m2 0h2m1 0h2m2 0h1m2 0h1m1 0h2M203 416.5h2m1 0h1m2 0h2m1 0h2m2 0h2m1 0h1m2 0h2m1 0h2m1 0h2M200 417.5h2m1 0h2m1 0h3m1 0h2m1 0h1m2 0h2m1 0h2m1 0h2m1 0h2m1 0h2m1 0h2M198 418.5h1m2 0h2m1 0h2m1 0h1m2 0h2m1 0h2m2 0h1m2 0h1m1 0h2m2 0h2m1 0h2m2 0h1M198 419.5h2m1 0h1m2 0h2m1 0h2m2 0h1m2 0h1m2 0h1m2 0h2m1 0h2m2 0h1m1 0h2m1 0h2M195 420.5h1m2 0h2m1 0h2m2 0h2m1 0h1m2 0h2m1 0h2m1 0h2m2 0h1m1 0h2m1 0h2m2 0h2m1 0h2m1 0h1M193 421.5h1m1 0h3m1 0h2m1 0h1m2 0h2m1 0h2m1 0h2m2 0h1m1 0h2m2 0h2m1 0h2m1 0h2m1 0h2m1 0h2m1 0h2M191 422.5h1m1 0h2m1 0h1m2 0h2m1 0h2m2 0h1m2 0h1m1 0h2m2 0h2m1 0h2m2 0h1m1 0h2m1 0h2m2 0h2m1 0h2m1 0h1m2 0h1M190 423.5h1m2 0h2m1 0h2m2 0h2m1 0h1m2 0h1m2 0h2m1 0h2m2 0h1m1 0h2m1 0h2m2 0h2m1 0h2m1 0h1m2 0h2m1 0h2m2 0h1M188 424.5h1m1 0h2m2 0h2m1 0h1m2 0h2m1 0h2m1 0h2m2 0h1m1 0h2m1 0h3m1 0h2m1 0h2m1 0h1m2 0h2m1 0h2m2 0h2m1 0h1m2 0h1m2 0h1M186 425.5h1m1 0h2m1 0h2m1 0h2m1 0h2m1 0h2m2 0h1m1 0h2m2 0h2m1 0h2m2 0h1m1 0h2m1 0h2m1 0h3m1 0h2m1 0h1m2 0h2m1 0h2m1 0h2m2 0h1M185 426.5h2m1 0h2m1 0h2m2 0h2m1 0h1m2 0h1m2 0h2m1 0h2m2 0h1m1 0h2m1 0h2m2 0h2m1 0h2m1 0h1m2 0h2m1 0h2m2 0h1m2 0h1m1 0h2m2 0h2M183 427.5h1m1 0h2m2 0h2m1 0h2m1 0h1m2 0h2m1 0h2m2 0h1m1 0h2m1 0h2m2 0h2m1 0h2m1 0h1m2 0h2m1 0h2m2 0h2m1 0h1m2 0h1m2 0h2m1 0h2m2 0h1m1 0h2M181 428.5h1m1 0h2m1 0h2m1 0h2m1 0h2m1 0h2m2 0h1m1 0h2m2 0h2m1 0h2m1 0h2m1 0h1m2 0h2m1 0h2m2 0h2m1 0h2m1 0h2m1 0h2m1 0h2m2 0h1m1 0h2m1 0h3m1 0h2M180 429.5h2m1 0h2m1 0h2m1 0h2m2 0h1m1 0h2m2 0h2m1 0h2m2 0h1m1 0h2m1 0h2m1 0h3m1 0h2m1 0h2m1 0h2m1 0h2m1 0h2m2 0h1m1 0h2m2 0h2m1 0h2m1 0h2m1 0h2m1 0h2M177 430.5h2m1 0h2m2 0h2m1 0h2m1 0h1m2 0h2m1 0h2m2 0h1m1 0h2m1 0h2m2 0h2m1 0h2m1 0h2m1 0h2m1 0h2m2 0h2m1 0h1m2 0h1m2 0h2m1 0h2m2 0h1m1 0h2m1 0h2m2 0h2m1 0h2M178 431.5h2m1 0h2m1 0h2m1 0h2m1 0h2m2 0h1m1 0h2m1 0h2m2 0h2m1 0h2m1 0h2m1 0h2m1 0h2m2 0h2m1 0h2m1 0h1m2 0h2m1 0h2m2 0h1m1 0h2m1 0h2m2 0h2m1 0h2m1 0h2m1 0h2m1 0h1M175 432.5h2m1 0h2m1 0h2m1 0h2m2 0h1m1 0h2m2 0h2m1 0h2m1 0h2m1 0h1m2 0h2m1 0h3m1 0h2m1 0h2m1 0h2m1 0h2m1 0h2m2 0h1m1 0h2m1 0h3m1 0h2m1 0h2m1 0h1m2 0h2m1 0h2m2 0h2m1 0h2M172 433.5h2m1 0h2m2 0h2m1 0h2m1 0h1m2 0h2m1 0h2m2 0h1m1 0h2m1 0h2m2 0h2m1 0h2m1 0h2m1 0h2m1 0h2m1 0h2m2 0h1m1 0h2m2 0h2m1 0h2m1 0h2m1 0h2m1 0h2m1 0h3m1 0h2m1 0h2m1 0h2m1 0h2m1 0h1M170 434.5h1m2 0h2m1 0h2m1 0h1m2 0h2m1 0h2m2 0h1m1 0h2m1 0h2m2 0h2m1 0h2m1 0h2m1 0h2m1 0h2m2 0h2m1 0h2m1 0h1m2 0h2m1 0h2m2 0h1m1 0h2m1 0h2m2 0h2m1 0h2m1 0h2m1 0h2m1 0h2m2 0h1m2 0h2m1 0h1M173 435.5h2m1 0h2m1 0h2m2 0h1m1 0h2m2 0h2m1 0h2m1 0h2m1 0h2m1 0h2m1 0h2m2 0h2m1 0h2m1 0h1m2 0h2m1 0h2m2 0h1m1 0h2m1 0h2m2 0h2m1 0h2m1 0h2m1 0h2m1 0h2m2 0h2m1 0h2m1 0h1m2 0h2M174 436.5h1m2 0h2m1 0h1m2 0h2m1 0h2m1 0h2m1 0h2m1 0h2m1 0h3m1 0h2m1 0h2m1 0h2m1 0h2m1 0h2m2 0h1m1 0h2m2 0h2m1 0h2m1 0h2m1 0h2m1 0h2m1 0h2m2 0h2m1 0h2m1 0h2m1 0h2m1 0h2M177 437.5h2m1 0h2m2 0h1m1 0h2m1 0h2m2 0h2m1 0h2m1 0h2m1 0h2m1 0h2m1 0h3m1 0h2m1 0h1m2 0h2m1 0h2m2 0h1m1 0h2m1 0h2m2 0h2m1 0h2m1 0h2m1 0h2m1 0h2m1 0h2m2 0h1m2 0h1M178 438.5h1m1 0h2m1 0h2m2 0h2m1 0h2m1 0h2m1 0h2m1 0h2m2 0h2m1 0h2m1 0h1m2 0h2m1 0h2m2 0h1m1 0h2m1 0h2m2 0h2m1 0h2m1 0h2m1 0h2m1 0h2m2 0h2m1 0h2m1 0h1m2 0h2M179 439.5h1m1 0h2m1 0h2m1 0h2m1 0h2m1 0h2m2 0h2m1 0h2m1 0h1m2 0h2m1 0h2m2 0h1m1 0h2m1 0h2m2 0h2m1 0h2m1 0h2m1 0h2m1 0h2m2 0h2m1 0h2m1 0h1m2 0h2m1 0h2M181 440.5h2m1 0h2m2 0h2m1 0h2m1 0h2m1 0h2m1 0h2m1 0h2m2 0h2m1 0h1m2 0h2m1 0h2m1 0h2m1 0h2m1 0h2m1 0h3m1 0h2m2 0h1m1 0h2m1 0h2m1 0h2m2 0h1m1 0h2M183 441.5h1m1 0h2m1 0h2m1 0h2m1 0h2m2 0h2m1 0h2m1 0h1m2 0h2m1 0h2m2 0h1m1 0h2m1 0h2m2 0h2m1 0h2m1 0h2m1 0h2m1 0h2m1 0h2m2 0h2m1 0h1m2 0h2M185 442.5h2m1 0h2m2 0h2m1 0h2m1 0h1m2 0h2m1 0h2m2 0h1m1 0h2m1 0h2m2 0h2m1 0h2m1 0h2m1 0h2m1 0h2m2 0h2m1 0h2m1 0h1m2 0h2m1 0h2M186 443.5h2m1 0h2m1 0h2m1 0h2m1 0h2m2 0h2m1 0h1m2 0h2m1 0h2m1 0h2m1 0h2m1 0h2m1 0h2m2 0h2m1 0h2m1 0h1m2 0h2m1 0h2m2 0h1m1 0h2M189 444.5h2m1 0h3m1 0h2m1 0h1m2 0h2m1 0h2m1 0h2m1 0h2m1 0h2m1 0h3m1 0h2m2 0h1m1 0h2m1 0h2m1 0h2m2 0h2m1 0h1m2 0h2M190 445.5h2m1 0h1m2 0h2m1 0h2m2 0h1m1 0h2m1 0h2m2 0h2m1 0h2m2 0h1m1 0h2m1 0h2m1 0h3m1 0h2m1 0h1m2 0h2m1 0h2M191 446.5h1m1 0h2m2 0h1m2 0h1m1 0h2m2 0h2m1 0h2m1 0h2m1 0h2m1 0h2m2 0h2m1 0h2m1 0h1m2 0h2m1 0h2m2 0h1m1 0h1M194 447.5h1m2 0h2m1 0h2m1 0h2m1 0h2m1 0h2m1 0h3m1 0h2m1 0h2m1 0h1m2 0h2m1 0h2m2 0h2m1 0h1m2 0h1M195 448.5h1m1 0h2m1 0h2m1 0h2m2 0h2m1 0h2m2 0h1m1 0h2m1 0h2m1 0h2m2 0h2m1 0h1m2 0h2m1 0h2M197 449.5h2m2 0h2m1 0h2m2 0h1m1 0h2m1 0h2m2 0h2m1 0h2m1 0h1m2 0h2m1 0h2m2 0h1m1 0h1M198 450.5h2m2 0h1m1 0h2m1 0h2m2 0h2m1 0h2m1 0h1m2 0h2m1 0h2m2 0h1m2 0h1m1 0h2M201 451.5h3m1 0h2m1 0h2m1 0h1m2 0h2m1 0h2m2 0h2m1 0h1m2 0h2m1 0h2M203 452.5h1m1 0h2m1 0h2m1 0h3m1 0h2m1 0h1m2 0h2m1 0h2m1 0h2M203 453.5h1m2 0h2m1 0h2m1 0h1m2 0h2m1 0h2m2 0h1m2 0h1m1 0h2M206 454.5h1m2 0h2m1 0h2m2 0h2m1 0h1m2 0h1m2 0h2M207 455.5h1m2 0h2m1 0h1m2 0h2m1 0h2m1 0h2M210 456.5h2m1 0h2m1 0h2m2 0h1m1 0h2M211 457.5h1m2 0h1m2 0h1m2 0h2M214 458.5h2m1 0h2M215 459.5h1m1 0h1M216 460.5h1" stroke-width="1"/>
<path d="M163 447.5h1M165 448.5h1M163 449.5h3m1 0h1M164 450.5h2m2 0h2M163 451.5h2m1 0h5M164 452.5h2m1 0h3m1 0h2M163 453.5h1m1 0h3m2 0h3m1 0h1M163 454.5h3m1 0h2m1 0h3m1 0h3M164 455.5h3m1 0h3m2 0h3m1 0h1M163 456.5h2m2 0h3m1 0h3m1 0h2m1 0h2M165 457.5h3m1 0h6m1 0h3m2 0h1M163 458.5h1m1 0h3m2 0h3m1 0h3m1 0h2m1 0h3M164 459.5h2m2 0h3m1 0h6m1 0h3m2 0h1M163 460.5h2m1 0h6m1 0h3m2 0h2m2 0h3m1 0h1M164 461.5h2m1 0h3m1 0h3m2 0h3m1 0h6m1 0h2M165 462.5h3m1 0h6m1 0h3m2 0h3m1 0h3m1 0h2M163 463.5h3m1 0h2m1 0h3m1 0h3m2 0h3m1 0h6m1 0h2M164 464.5h3m1 0h3m2 0h3m1 0h3m1 0h2m1 0h3m1 0h3m2 0h1M163 465.5h2m2 0h3m1 0h3m1 0h2m1 0h3m1 0h3m2 0h3m1 0h3m1 0h1M164 466.5h2m1 0h3m1 0h3m2 0h3m1 0h6m1 0h3m2 0h2m2 0h2M163 467.5h1m1 0h3m2 0h3m1 0h3m1 0h2m1 0h3m1 0h3m2 0h3m1 0h3m1 0h1M164 468.5h2m2 0h3m1 0h6m1 0h3m2 0h3m1 0h3m1 0h2m1 0h3m1 0h2M164 469.5h1m1 0h1m1 0h3m2 0h3m2 0h2m2 0h1m1 0h1m1 0h1m1 0h3m2 0h3m2 0h3m1 0h1M163 470.5h2m2 0h3m1 0h3m1 0h2m1 0h3m1 0h3m2 0h3m1 0h3m1 0h2m1 0h3m1 0h2M165 471.5h3m1 0h6m1 0h3m2 0h3m1 0h3m1 0h2m1 0h3m1 0h3m2 0h3m1 0h1M163 472.5h3m1 0h2m1 0h3m1 0h3m2 0h3m1 0h6m1 0h3m2 0h2m2 0h3m1 0h5M164 473.5h2m2 0h3m2 0h3m1 0h1m1 0h1m1 0h1m2 0h3m1 0h3m2 0h1m1 0h1m1 0h1m1 0h3m2 0h3m2 0h1M163 474.5h2m1 0h6m1 0h3m2 0h2m2 0h3m1 0h6m1 0h3m2 0h3m1 0h3m1 0h2m1 0h2M164 475.5h2m1 0h3m1 0h3m2 0h3m1 0h6m1 0h3m2 0h2m2 0h3m1 0h6m1 0h3m2 0h1M163 476.5h1m1 0h3m2 0h3m1 0h3m1 0h2m1 0h3m1 0h3m2 0h3m1 0h3m1 0h2m1 0h3m1 0h3m2 0h3M163 477.5h3m1 0h2m1 0h3m1 0h3m2 0h3m1 0h6m1 0h3m2 0h2m2 0h3m1 0h6m1 0h3M164 478.5h3m1 0h3m2 0h3m1 0h3m1 0h2m1 0h3m1 0h3m2 0h3m1 0h6m1 0h3m2 0h2M163 479.5h2m2 0h3m1 0h3m1 0h2m1 0h3m1 0h3m2 0h3m1 0h3m1 0h2m1 0h3m1 0h3m2 0h3m1 0h2M165 480.5h3m1 0h6m1 0h3m2 0h3m1 0h3m1 0h2m1 0h3m1 0h3m2 0h3m1 0h3m1 0h2m1 0h1M163 481.5h1m1 0h3m2 0h3m1 0h3m1 0h2m1 0h3m1 0h3m2 0h3m1 0h3m1 0h2m1 0h3m1 0h3m2 0h3M164 482.5h2m2 0h3m1 0h6m1 0h3m2 0h3m1 0h3m1 0h2m1 0h3m1 0h3m2 0h3m1 0h3m1 0h1M163 483.5h2m1 0h6m1 0h3m2 0h2m2 0h3m1 0h6m1 0h3m2 0h3m1 0h3m1 0h2m1 0h3M164 484.5h2m1 0h3m1 0h3m2 0h3m1 0h6m1 0h3m2 0h2m2 0h3m1 0h6m1 0h3m2 0h1M165 485.5h3m1 0h6m1 0h3m2 0h3m1 0h3m1 0h2m1 0h3m1 0h3m2 0h3m1 0h3m1 0h2m1 0h1M163 486.5h3m1 0h2m1 0h3m1 0h3m2 0h3m1 0h6m1 0h3m2 0h2m2 0h3m1 0h6m1 0h3M164 487.5h3m1 0h3m2 0h3m1 0h3m1 0h2m1 0h3m1 0h3m2 0h3m1 0h6m1 0h3m2 0h2M163 488.5h2m2 0h3m1 0h3m1 0h2m1 0h3m1 0h3m2 0h3m1 0h3m1 0h2m1 0h3m1 0h3m2 0h3m1 0h2M164 489.5h2m1 0h3m1 0h3m2 0h3m1 0h6m1 0h3m2 0h2m2 0h3m1 0h6m1 0h3m2 0h1M163 490.5h1m1 0h3m2 0h3m1 0h3m1 0h2m1 0h3m1 0h3m2 0h3m1 0h3m1 0h2m1 0h3m1 0h3m2 0h3M164 491.5h2m2 0h3m1 0h6m1 0h3m2 0h3m1 0h3m1 0h2m1 0h3m1 0h3m2 0h3m1 0h3m1 0h1M164 492.5h1m1 0h1m1 0h3m2 0h3m2 0h2m2 0h1m1 0h1m1 0h1m1 0h3m2 0h3m2 0h3m1 0h1m1 0h1m1 0h1m2 0h2M163 493.5h2m2 0h3m1 0h3m1 0h2m1 0h3m1 0h3m2 0h3m1 0h3m1 0h2m1 0h3m1 0h3m2 0h3m1 0h2M165 494.5h3m1 0h6m1 0h3m2 0h3m1 0h3m1 0h2m1 0h3m1 0h3m2 0h3m1 0h3m1 0h2m1 0h1M163 495.5h3m1 0h2m1 0h3m1 0h3m2 0h3m1 0h6m1 0h3m2 0h2m2 0h3m1 0h6m1 0h3M164 496.5h2m2 0h3m2 0h3m1 0h1m1 0h1m1 0h1m2 0h3m1 0h3m2 0h1m1 0h1m1 0h1m1 0h3m2 0h3m2 0h2M163 497.5h2m1 0h6m1 0h3m2 0h2m2 0h3m1 0h6m1 0h3m2 0h3m1 0h3m1 0h2m1 0h3M164 498.5h2m1 0h3m1 0h3m2 0h3m1 0h6m1 0h3m2 0h2m2 0h3m1 0h6m1 0h3m2 0h1M163 499.5h1m1 0h3m2 0h3m1 0h3m1 0h2m1 0h3m1 0h3m2 0h3m1 0h3m1 0h2m1 0h3m1 0h3m2 0h3M163 500.5h3m1 0h2m1 0h3m1 0h3m2 0h3m1 0h6m1 0h3m2 0h2m2 0h3m1 0h6m1 0h3M164 501.5h3m1 0h3m2 0h3m1 0h3m1 0h2m1 0h3m1 0h3m2 0h3m1 0h6m1 0h3m2 0h2M163 502.5h2m2 0h3m1 0h3m1 0h2m1 0h3m1 0h3m2 0h3m1 0h3m1 0h2m1 0h3m1 0h3m2 0h3m1 0h2M165 503.5h3m1 0h6m1 0h3m2 0h3m1 0h3m1 0h2m1 0h3m1 0h3m2 0h3m1 0h3m1 0h2m1 0h1M165 504.5h3m2 0h3m1 0h3m1 0h2m1 0h3m1 0h3m2 0h3m1 0h3m1 0h2m1 0h3m1 0h3m2 0h3M165 505.5h1m2 0h3m1 0h6m1 0h3m2 0h3m1 0h3m1 0h2m1 0h3m1 0h3m2 0h3m1 0h3m1 0h1M167 506.5h5m1 0h3m2 0h2m2 0h3m1 0h6m1 0h3m2 0h3m1 0h3m1 0h2m1 0h3M169 507.5h1m1 0h3m2 0h3m1 0h6m1 0h3m2 0h2m2 0h3m1 0h6m1 0h3m2 0h1M171 508.5h4m1 0h3m2 0h3m1 0h3m1 0h2m1 0h3m1 0h3m2 0h3m1 0h3m1 0h2m1 0h1M172 509.5h1m1 0h3m2 0h3m1 0h6m1 0h3m2 0h2m2 0h3m1 0h6m1 0h3M174 510.5h2m1 0h3m1 0h2m1 0h3m1 0h3m2 0h3m1 0h6m1 0h3m2 0h2M176 511.5h1m1 0h3m1 0h3m2 0h3m1 0h3m1 0h2m1 0h3m1 0h3m2 0h3m1 0h2M178 512.5h1m1 0h6m1 0h3m2 0h2m2 0h3m1 0h6m1 0h3m2 0h1M179 513.5h1m1 0h3m1 0h3m2 0h3m1 0h3m1 0h2m1 0h3m1 0h3m2 0h3M181 514.5h1m2 0h3m1 0h3m1 0h2m1 0h3m1 0h3m2 0h3m1 0h3m1 0h1M184 515.5h1m1 0h1m1 0h3m2 0h3m2 0h3m1 0h1m1 0h1m1 0h1m2 0h2M184 516.5h1m2 0h3m1 0h3m1 0h2m1 0h3m1 0h3m2 0h3m1 0h2M186 517.5h2m1 0h2m1 0h3m1 0h3m2 0h3m1 0h3m1 0h2m1 0h1M188 518.5h1m1 0h3m2 0h2m2 0h3m1 0h6m1 0h3M190 519.5h1m2 0h1m1 0h1m1 0h1m1 0h3m2 0h3m2 0h2M191 520.5h1m1 0h3m2 0h3m1 0h3m1 0h2m1 0h3M193 521.5h1m2 0h3m1 0h6m1 0h3m2 0h1M195 522.5h2m1 0h2m1 0h3m1 0h3m2 0h3M199 523.5h3m1 0h6m1 0h3M198 524.5h5m1 0h3m2 0h2M200 525.5h1m1 0h3m2 0h3m1 0h2M202 526.5h2m1 0h3m1 0h2m1 0h1M203 527.5h1m1 0h3m2 0h3M205 528.5h2m1 0h3m1 0h1M207 529.5h1m1 0h3M209 530.5h1m2 0h1M210 531.5h1m1 0h1M212 532.5h1" stroke-width="1"/>
</g>
<g id="legend" class="legend" stroke="none">
<text y="570.3" font-size="13.7"><tspan x="435.8" textLength="6" lengthAdjust="spacingAndGlyphs" font-size="13">1</tspan><tspan x="443.8" font-size="13">.</tspan><tspan x="449" textLength="57.4" lengthAdjust="spacing">观察窗口</tspan></text>
<text y="570.3" font-size="13.7"><tspan x="529.8" textLength="6" lengthAdjust="spacingAndGlyphs" font-size="13">2</tspan><tspan x="537.8" font-size="13">.</tspan><tspan x="543.5" textLength="43.7" lengthAdjust="spacing">泄压门</tspan></text>
<text y="570.3" font-size="13.7"><tspan x="610.4" textLength="6" lengthAdjust="spacingAndGlyphs" font-size="13">3</tspan><tspan x="618.4" font-size="13">.</tspan><tspan x="622.9" textLength="42.1" lengthAdjust="spacing">福马轮</tspan></text>
<text y="570.3" font-size="13.7"><tspan x="689" textLength="6" lengthAdjust="spacingAndGlyphs" font-size="13">4</tspan><tspan x="697" font-size="13">.</tspan><tspan x="703" textLength="99.8" lengthAdjust="spacing">触摸屏面板按钮</tspan></text>
<text y="586.8" font-size="13.7"><tspan x="384.6" textLength="6" lengthAdjust="spacingAndGlyphs" font-size="13">5</tspan><tspan x="392.6" font-size="13">.</tspan><tspan x="398.6" textLength="42.7" lengthAdjust="spacing">门把手</tspan></text>
<text y="586.8" font-size="13.7"><tspan x="464.2" textLength="6" lengthAdjust="spacingAndGlyphs" font-size="13">6</tspan><tspan x="472.2" font-size="13">.</tspan><tspan x="477.9" textLength="42.1" lengthAdjust="spacing">三色灯</tspan></text>
<text y="586.8" font-size="13.7"><tspan x="545.5" textLength="6" lengthAdjust="spacingAndGlyphs" font-size="13">7</tspan><tspan x="553.5" font-size="13">.</tspan><tspan x="558.8" textLength="41.1" lengthAdjust="spacing">排烟口</tspan></text>
<text y="586.8" font-size="13.7"><tspan x="615.6" textLength="6" lengthAdjust="spacingAndGlyphs" font-size="13">8</tspan><tspan x="623.6" font-size="13">.</tspan><tspan x="630.3" textLength="41.6" lengthAdjust="spacing">电控柜</tspan></text>
<text y="586.8" font-size="13.7"><tspan x="703.7" textLength="6" lengthAdjust="spacingAndGlyphs" font-size="13">9</tspan><tspan x="711.7" font-size="13">.</tspan><tspan x="716.9" textLength="57.9" lengthAdjust="spacing">散热风扇</tspan></text>
<text y="586.8" font-size="13.7"><tspan x="798.2" textLength="6" lengthAdjust="spacingAndGlyphs" font-size="13">1</tspan><tspan x="805.4" textLength="6" lengthAdjust="spacingAndGlyphs" font-size="13">0</tspan><tspan x="813.4" font-size="13">.</tspan><tspan x="818.5" textLength="42.4" lengthAdjust="spacing">测试孔</tspan></text>
</g>
</svg>
</body>
</html>
